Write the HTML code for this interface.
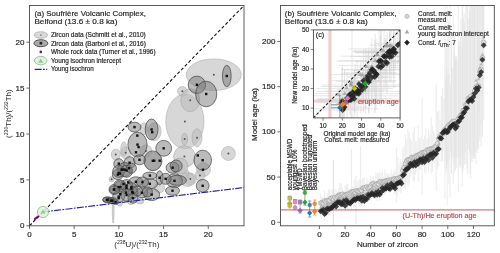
<!DOCTYPE html><html><head><meta charset="utf-8"><style>html,body{margin:0;padding:0;background:#fff;width:500px;height:253px;overflow:hidden}</style></head><body><svg width="500" height="253" viewBox="0 0 500 253" style="display:block;font-family:'Liberation Sans', sans-serif;will-change:transform">
<rect width="500" height="253" fill="#fff"/>
<clipPath id="cl"><rect x="29.5" y="5.5" width="214.5" height="220.3"/></clipPath>
<g clip-path="url(#cl)">
<ellipse cx="213.8" cy="74.7" rx="27.5" ry="15.8" fill="#bdbdbd" fill-opacity="0.6" stroke="#a0a0a0" stroke-width="0.6" stroke-opacity="0.8"/>
<ellipse cx="184.9" cy="121.5" rx="19.1" ry="27.3" fill="#bdbdbd" fill-opacity="0.6" stroke="#a0a0a0" stroke-width="0.6" stroke-opacity="0.8"/>
<ellipse cx="182.4" cy="91.3" rx="4.8" ry="4.8" fill="#bdbdbd" fill-opacity="0.6" stroke="#a0a0a0" stroke-width="0.6" stroke-opacity="0.8"/>
<ellipse cx="190.2" cy="100.2" rx="9.5" ry="11.5" fill="#bdbdbd" fill-opacity="0.6" stroke="#a0a0a0" stroke-width="0.6" stroke-opacity="0.8"/>
<ellipse cx="184.4" cy="156.5" rx="10.8" ry="10.8" fill="#bdbdbd" fill-opacity="0.6" stroke="#a0a0a0" stroke-width="0.6" stroke-opacity="0.8"/>
<ellipse cx="228.4" cy="153.5" rx="7" ry="7" fill="#bdbdbd" fill-opacity="0.6" stroke="#a0a0a0" stroke-width="0.6" stroke-opacity="0.8"/>
<ellipse cx="197" cy="137.7" rx="5" ry="9" fill="#bdbdbd" fill-opacity="0.6" stroke="#a0a0a0" stroke-width="0.6" stroke-opacity="0.8"/>
<ellipse cx="203.5" cy="169.6" rx="7" ry="7" fill="#bdbdbd" fill-opacity="0.6" stroke="#a0a0a0" stroke-width="0.6" stroke-opacity="0.8"/>
<ellipse cx="199.9" cy="175.6" rx="5" ry="5" fill="#bdbdbd" fill-opacity="0.6" stroke="#a0a0a0" stroke-width="0.6" stroke-opacity="0.8"/>
<ellipse cx="190.4" cy="179.1" rx="6" ry="6" fill="#bdbdbd" fill-opacity="0.6" stroke="#a0a0a0" stroke-width="0.6" stroke-opacity="0.8"/>
<ellipse cx="183.3" cy="174.4" rx="6" ry="6" fill="#bdbdbd" fill-opacity="0.6" stroke="#a0a0a0" stroke-width="0.6" stroke-opacity="0.8"/>
<ellipse cx="154.6" cy="131.6" rx="6.5" ry="9" fill="#bdbdbd" fill-opacity="0.6" stroke="#a0a0a0" stroke-width="0.6" stroke-opacity="0.8"/>
<ellipse cx="143.7" cy="128.7" rx="4" ry="6" fill="#bdbdbd" fill-opacity="0.6" stroke="#a0a0a0" stroke-width="0.6" stroke-opacity="0.8"/>
<ellipse cx="153.3" cy="161.3" rx="9" ry="9" fill="#bdbdbd" fill-opacity="0.6" stroke="#a0a0a0" stroke-width="0.6" stroke-opacity="0.8"/>
<ellipse cx="145.9" cy="150.9" rx="6" ry="6" fill="#bdbdbd" fill-opacity="0.6" stroke="#a0a0a0" stroke-width="0.6" stroke-opacity="0.8"/>
<ellipse cx="125.7" cy="152.8" rx="5" ry="6" fill="#bdbdbd" fill-opacity="0.6" stroke="#a0a0a0" stroke-width="0.6" stroke-opacity="0.8"/>
<ellipse cx="115.8" cy="154.5" rx="4.5" ry="5.5" fill="#bdbdbd" fill-opacity="0.6" stroke="#a0a0a0" stroke-width="0.6" stroke-opacity="0.8"/>
<ellipse cx="123.7" cy="148.9" rx="3" ry="7" fill="#bdbdbd" fill-opacity="0.6" stroke="#a0a0a0" stroke-width="0.6" stroke-opacity="0.8"/>
<ellipse cx="111.6" cy="179.2" rx="2.6" ry="2.6" fill="#bdbdbd" fill-opacity="0.6" stroke="#a0a0a0" stroke-width="0.6" stroke-opacity="0.8"/>
<ellipse cx="119.8" cy="203.7" rx="2.5" ry="2.5" fill="#bdbdbd" fill-opacity="0.6" stroke="#a0a0a0" stroke-width="0.6" stroke-opacity="0.8"/>
<ellipse cx="130.6" cy="201.7" rx="3" ry="3" fill="#bdbdbd" fill-opacity="0.6" stroke="#a0a0a0" stroke-width="0.6" stroke-opacity="0.8"/>
<ellipse cx="159.6" cy="187.7" rx="5" ry="5" fill="#bdbdbd" fill-opacity="0.6" stroke="#a0a0a0" stroke-width="0.6" stroke-opacity="0.8"/>
<ellipse cx="184.6" cy="139.1" rx="3" ry="6" fill="#bdbdbd" fill-opacity="0.6" stroke="#a0a0a0" stroke-width="0.6" stroke-opacity="0.8"/>
<ellipse cx="187.4" cy="179.5" rx="7" ry="7" fill="#bdbdbd" fill-opacity="0.6" stroke="#a0a0a0" stroke-width="0.6" stroke-opacity="0.8"/>
<ellipse cx="113.2" cy="212" rx="0.9" ry="11" fill="#bdbdbd" fill-opacity="0.6" stroke="#a0a0a0" stroke-width="0.6" stroke-opacity="0.8"/>
<ellipse cx="180" cy="166" rx="8" ry="8" fill="#bdbdbd" fill-opacity="0.6" stroke="#a0a0a0" stroke-width="0.6" stroke-opacity="0.8"/>
<ellipse cx="140" cy="201" rx="4" ry="3" fill="#bdbdbd" fill-opacity="0.6" stroke="#a0a0a0" stroke-width="0.6" stroke-opacity="0.8"/>
<circle cx="213.8" cy="74.7" r="1" fill="#555"/>
<circle cx="184.9" cy="121.5" r="1" fill="#555"/>
<circle cx="182.4" cy="91.3" r="1" fill="#555"/>
<circle cx="190.2" cy="100.2" r="1" fill="#555"/>
<circle cx="184.4" cy="156.5" r="1" fill="#555"/>
<circle cx="228.4" cy="153.5" r="1" fill="#555"/>
<circle cx="197" cy="137.7" r="1" fill="#555"/>
<circle cx="199.9" cy="175.6" r="1" fill="#555"/>
<circle cx="190.4" cy="179.1" r="1" fill="#555"/>
<circle cx="145.9" cy="150.9" r="1" fill="#555"/>
<circle cx="125.7" cy="152.8" r="1" fill="#555"/>
<circle cx="115.8" cy="154.5" r="1" fill="#555"/>
<circle cx="111.6" cy="179.2" r="1" fill="#555"/>
<circle cx="184.6" cy="139.1" r="1" fill="#555"/>
<ellipse cx="226.8" cy="76" rx="4.35" ry="10.7" fill="#777" fill-opacity="0.5" stroke="#444" stroke-width="0.7"/>
<ellipse cx="196.9" cy="84.8" rx="8.7" ry="8.7" fill="#777" fill-opacity="0.5" stroke="#444" stroke-width="0.7"/>
<ellipse cx="206.2" cy="94" rx="10.6" ry="12.8" fill="#777" fill-opacity="0.5" stroke="#444" stroke-width="0.7"/>
<ellipse cx="202.7" cy="160.2" rx="8.8" ry="10" fill="#777" fill-opacity="0.5" stroke="#444" stroke-width="0.7"/>
<ellipse cx="202.7" cy="185.8" rx="6.4" ry="6.4" fill="#777" fill-opacity="0.5" stroke="#444" stroke-width="0.7"/>
<ellipse cx="163.7" cy="148.3" rx="7.9" ry="7.9" fill="#777" fill-opacity="0.5" stroke="#444" stroke-width="0.7"/>
<ellipse cx="151.6" cy="129.5" rx="6.4" ry="10.5" fill="#777" fill-opacity="0.5" stroke="#444" stroke-width="0.7"/>
<ellipse cx="134.5" cy="127.1" rx="6.5" ry="4.9" fill="#777" fill-opacity="0.5" stroke="#444" stroke-width="0.7"/>
<ellipse cx="137.5" cy="144.6" rx="9.6" ry="12.4" fill="#777" fill-opacity="0.5" stroke="#444" stroke-width="0.7"/>
<ellipse cx="152.8" cy="160.8" rx="8.9" ry="9.9" fill="#777" fill-opacity="0.5" stroke="#444" stroke-width="0.7"/>
<ellipse cx="172.6" cy="167.7" rx="6.5" ry="5.5" fill="#777" fill-opacity="0.5" stroke="#444" stroke-width="0.7"/>
<ellipse cx="174.5" cy="180.8" rx="8" ry="7" fill="#777" fill-opacity="0.5" stroke="#444" stroke-width="0.7"/>
<ellipse cx="177.4" cy="180.3" rx="9" ry="5" fill="#777" fill-opacity="0.5" stroke="#444" stroke-width="0.7"/>
<ellipse cx="172.5" cy="190.7" rx="7" ry="4.5" fill="#777" fill-opacity="0.5" stroke="#444" stroke-width="0.7"/>
<ellipse cx="159.6" cy="177.8" rx="3.5" ry="7" fill="#777" fill-opacity="0.5" stroke="#444" stroke-width="0.7"/>
<ellipse cx="165.6" cy="178.8" rx="5.5" ry="5.5" fill="#777" fill-opacity="0.5" stroke="#444" stroke-width="0.7"/>
<ellipse cx="149.8" cy="183.8" rx="7.9" ry="4.9" fill="#777" fill-opacity="0.5" stroke="#444" stroke-width="0.7"/>
<ellipse cx="151.7" cy="194.6" rx="8" ry="6" fill="#777" fill-opacity="0.5" stroke="#444" stroke-width="0.7"/>
<ellipse cx="141.9" cy="192.7" rx="6" ry="5" fill="#777" fill-opacity="0.5" stroke="#444" stroke-width="0.7"/>
<ellipse cx="135.9" cy="181.8" rx="7" ry="5" fill="#777" fill-opacity="0.5" stroke="#444" stroke-width="0.7"/>
<ellipse cx="133" cy="192.7" rx="5" ry="6" fill="#777" fill-opacity="0.5" stroke="#444" stroke-width="0.7"/>
<ellipse cx="149.9" cy="175.6" rx="7" ry="3.5" fill="#777" fill-opacity="0.5" stroke="#444" stroke-width="0.7"/>
<ellipse cx="176.2" cy="166" rx="6" ry="6" fill="#777" fill-opacity="0.5" stroke="#444" stroke-width="0.7"/>
<ellipse cx="118.8" cy="163.7" rx="5" ry="5" fill="#777" fill-opacity="0.5" stroke="#444" stroke-width="0.7"/>
<ellipse cx="129.6" cy="162.7" rx="5.5" ry="6" fill="#777" fill-opacity="0.5" stroke="#444" stroke-width="0.7"/>
<ellipse cx="139.5" cy="159.8" rx="6" ry="5" fill="#777" fill-opacity="0.5" stroke="#444" stroke-width="0.7"/>
<ellipse cx="124.7" cy="169.6" rx="7" ry="7" fill="#777" fill-opacity="0.5" stroke="#444" stroke-width="0.7"/>
<ellipse cx="117.8" cy="174.6" rx="5.5" ry="5" fill="#777" fill-opacity="0.5" stroke="#444" stroke-width="0.7"/>
<ellipse cx="118.7" cy="171.3" rx="6" ry="6" fill="#777" fill-opacity="0.5" stroke="#444" stroke-width="0.7"/>
<ellipse cx="126.6" cy="171.3" rx="6" ry="6" fill="#777" fill-opacity="0.5" stroke="#444" stroke-width="0.7"/>
<ellipse cx="131.4" cy="168.2" rx="5" ry="5" fill="#777" fill-opacity="0.5" stroke="#444" stroke-width="0.7"/>
<ellipse cx="114" cy="189.5" rx="5" ry="5" fill="#777" fill-opacity="0.5" stroke="#444" stroke-width="0.7"/>
<ellipse cx="120.3" cy="187.1" rx="6" ry="6" fill="#777" fill-opacity="0.5" stroke="#444" stroke-width="0.7"/>
<ellipse cx="126.6" cy="185.6" rx="6" ry="6" fill="#777" fill-opacity="0.5" stroke="#444" stroke-width="0.7"/>
<ellipse cx="131.4" cy="188.7" rx="6" ry="6" fill="#777" fill-opacity="0.5" stroke="#444" stroke-width="0.7"/>
<ellipse cx="118.7" cy="196.6" rx="6" ry="6" fill="#777" fill-opacity="0.5" stroke="#444" stroke-width="0.7"/>
<ellipse cx="126.6" cy="195" rx="6" ry="6" fill="#777" fill-opacity="0.5" stroke="#444" stroke-width="0.7"/>
<ellipse cx="133" cy="198.2" rx="5" ry="5" fill="#777" fill-opacity="0.5" stroke="#444" stroke-width="0.7"/>
<ellipse cx="107.6" cy="199.8" rx="5" ry="3" fill="#777" fill-opacity="0.5" stroke="#444" stroke-width="0.7"/>
<ellipse cx="112.4" cy="200.6" rx="5" ry="3" fill="#777" fill-opacity="0.5" stroke="#444" stroke-width="0.7"/>
<ellipse cx="142.5" cy="182" rx="6" ry="5" fill="#777" fill-opacity="0.5" stroke="#444" stroke-width="0.7"/>
<ellipse cx="147.4" cy="191.9" rx="5" ry="5" fill="#777" fill-opacity="0.5" stroke="#444" stroke-width="0.7"/>
<ellipse cx="137.5" cy="190.9" rx="5" ry="5" fill="#777" fill-opacity="0.5" stroke="#444" stroke-width="0.7"/>
<ellipse cx="119.8" cy="185" rx="6" ry="5" fill="#777" fill-opacity="0.5" stroke="#444" stroke-width="0.7"/>
<ellipse cx="114.8" cy="189.9" rx="5" ry="4" fill="#777" fill-opacity="0.5" stroke="#444" stroke-width="0.7"/>
<ellipse cx="106.9" cy="199.8" rx="4" ry="2.6" fill="#777" fill-opacity="0.5" stroke="#444" stroke-width="0.7"/>
<ellipse cx="110.8" cy="200.6" rx="4" ry="2.6" fill="#777" fill-opacity="0.5" stroke="#444" stroke-width="0.7"/>
<ellipse cx="115.6" cy="202.2" rx="3" ry="2.4" fill="#777" fill-opacity="0.5" stroke="#444" stroke-width="0.7"/>
<rect x="225.60000000000002" y="74.8" width="2.4" height="2.4" fill="#111"/>
<rect x="195.70000000000002" y="83.6" width="2.4" height="2.4" fill="#111"/>
<rect x="205.0" y="92.8" width="2.4" height="2.4" fill="#111"/>
<rect x="201.5" y="159.0" width="2.4" height="2.4" fill="#111"/>
<rect x="201.5" y="184.60000000000002" width="2.4" height="2.4" fill="#111"/>
<rect x="162.5" y="147.10000000000002" width="2.4" height="2.4" fill="#111"/>
<rect x="150.4" y="128.3" width="2.4" height="2.4" fill="#111"/>
<rect x="133.3" y="125.89999999999999" width="2.4" height="2.4" fill="#111"/>
<rect x="136.3" y="143.4" width="2.4" height="2.4" fill="#111"/>
<rect x="151.60000000000002" y="159.60000000000002" width="2.4" height="2.4" fill="#111"/>
<rect x="171.4" y="166.5" width="2.4" height="2.4" fill="#111"/>
<rect x="173.3" y="179.60000000000002" width="2.4" height="2.4" fill="#111"/>
<rect x="171.3" y="189.5" width="2.4" height="2.4" fill="#111"/>
<rect x="158.4" y="176.60000000000002" width="2.4" height="2.4" fill="#111"/>
<rect x="164.4" y="177.60000000000002" width="2.4" height="2.4" fill="#111"/>
<rect x="148.60000000000002" y="182.60000000000002" width="2.4" height="2.4" fill="#111"/>
<rect x="150.5" y="193.4" width="2.4" height="2.4" fill="#111"/>
<rect x="140.70000000000002" y="191.5" width="2.4" height="2.4" fill="#111"/>
<rect x="134.70000000000002" y="180.60000000000002" width="2.4" height="2.4" fill="#111"/>
<rect x="131.8" y="191.5" width="2.4" height="2.4" fill="#111"/>
<rect x="148.70000000000002" y="174.4" width="2.4" height="2.4" fill="#111"/>
<rect x="117.6" y="162.5" width="2.4" height="2.4" fill="#111"/>
<rect x="128.4" y="161.5" width="2.4" height="2.4" fill="#111"/>
<rect x="138.3" y="158.60000000000002" width="2.4" height="2.4" fill="#111"/>
<rect x="123.5" y="168.4" width="2.4" height="2.4" fill="#111"/>
<rect x="116.6" y="173.4" width="2.4" height="2.4" fill="#111"/>
<rect x="112.8" y="188.3" width="2.4" height="2.4" fill="#111"/>
<rect x="119.1" y="185.9" width="2.4" height="2.4" fill="#111"/>
<rect x="125.39999999999999" y="184.4" width="2.4" height="2.4" fill="#111"/>
<rect x="130.20000000000002" y="187.5" width="2.4" height="2.4" fill="#111"/>
<rect x="117.5" y="195.4" width="2.4" height="2.4" fill="#111"/>
<rect x="125.39999999999999" y="193.8" width="2.4" height="2.4" fill="#111"/>
<rect x="131.8" y="197.0" width="2.4" height="2.4" fill="#111"/>
<rect x="106.39999999999999" y="198.60000000000002" width="2.4" height="2.4" fill="#111"/>
<rect x="111.2" y="199.4" width="2.4" height="2.4" fill="#111"/>
<rect x="141.3" y="180.8" width="2.4" height="2.4" fill="#111"/>
<rect x="136.10000000000002" y="134.4" width="2.4" height="2.4" fill="#111"/>
<rect x="137.4" y="145.9" width="2.4" height="2.4" fill="#111"/>
<rect x="134.8" y="151.10000000000002" width="2.4" height="2.4" fill="#111"/>
<rect x="151.0" y="131.0" width="2.4" height="2.4" fill="#111"/>
<rect x="117.5" y="171.70000000000002" width="2.4" height="2.4" fill="#111"/>
<rect x="121.5" y="168.5" width="2.4" height="2.4" fill="#111"/>
<rect x="125.39999999999999" y="169.3" width="2.4" height="2.4" fill="#111"/>
<rect x="127.8" y="167.0" width="2.4" height="2.4" fill="#111"/>
<rect x="112.8" y="188.3" width="2.4" height="2.4" fill="#111"/>
<rect x="117.5" y="185.9" width="2.4" height="2.4" fill="#111"/>
<rect x="122.3" y="182.8" width="2.4" height="2.4" fill="#111"/>
<rect x="126.99999999999999" y="181.20000000000002" width="2.4" height="2.4" fill="#111"/>
<rect x="125.39999999999999" y="186.70000000000002" width="2.4" height="2.4" fill="#111"/>
<rect x="130.20000000000002" y="185.9" width="2.4" height="2.4" fill="#111"/>
<rect x="119.1" y="193.0" width="2.4" height="2.4" fill="#111"/>
<rect x="124.6" y="191.5" width="2.4" height="2.4" fill="#111"/>
<rect x="131.0" y="190.70000000000002" width="2.4" height="2.4" fill="#111"/>
<rect x="117.5" y="197.0" width="2.4" height="2.4" fill="#111"/>
<rect x="105.7" y="198.60000000000002" width="2.4" height="2.4" fill="#111"/>
<rect x="109.6" y="199.4" width="2.4" height="2.4" fill="#111"/>
<rect x="114.39999999999999" y="201.0" width="2.4" height="2.4" fill="#111"/>
<rect x="153.0" y="159.5" width="2.4" height="2.4" fill="#111"/>
<rect x="158.5" y="159.5" width="2.4" height="2.4" fill="#111"/>
<rect x="196.60000000000002" y="154.20000000000002" width="2.4" height="2.4" fill="#111"/>
<rect x="201.8" y="168.5" width="2.4" height="2.4" fill="#111"/>
<rect x="120.5" y="168.4" width="2.4" height="2.4" fill="#111"/>
<rect x="118.6" y="172.4" width="2.4" height="2.4" fill="#111"/>
<line x1="29.5" y1="225.8" x2="244.0" y2="5.499999999999972" stroke="#111" stroke-width="1.1" stroke-dasharray="3.2 2.1"/>
<line x1="42.90625" y1="212.03125" x2="244.0" y2="187.522875" stroke="#1f1f9a" stroke-width="1.1" stroke-dasharray="7 1.3 1.8 1.3"/>
<line x1="35" y1="218.8" x2="38.8" y2="216.2" stroke="#800080" stroke-width="2.1" stroke-linecap="round"/>
<circle cx="43" cy="212" r="5.6" fill="#e2f0e2" fill-opacity="0.85" stroke="#7cc07c" stroke-width="0.8"/>
<path d="M43 209.4 L45.4 213.5 L40.6 213.5 Z" fill="#8ccb8c"/>
</g>
<rect x="29.5" y="5.5" width="214.5" height="220.3" fill="none" stroke="#4a4a4a" stroke-width="0.9"/>
<line x1="29.5" y1="225.8" x2="29.5" y2="229.0" stroke="#4a4a4a" stroke-width="0.8"/>
<text x="29.5" y="236.6" font-size="7.84" text-anchor="middle" fill="#262626" stroke="#262626" stroke-width="0.18" textLength="4.45" lengthAdjust="spacingAndGlyphs">0</text>
<line x1="26.3" y1="225.8" x2="29.5" y2="225.8" stroke="#4a4a4a" stroke-width="0.8"/>
<text x="24.5" y="228.4" font-size="7.84" text-anchor="end" fill="#262626" stroke="#262626" stroke-width="0.18" textLength="4.45" lengthAdjust="spacingAndGlyphs">0</text>
<line x1="74.1875" y1="225.8" x2="74.1875" y2="229.0" stroke="#4a4a4a" stroke-width="0.8"/>
<text x="74.1875" y="236.6" font-size="7.84" text-anchor="middle" fill="#262626" stroke="#262626" stroke-width="0.18" textLength="4.45" lengthAdjust="spacingAndGlyphs">5</text>
<line x1="26.3" y1="179.90416666666667" x2="29.5" y2="179.90416666666667" stroke="#4a4a4a" stroke-width="0.8"/>
<text x="24.5" y="182.50416666666666" font-size="7.84" text-anchor="end" fill="#262626" stroke="#262626" stroke-width="0.18" textLength="4.45" lengthAdjust="spacingAndGlyphs">5</text>
<line x1="118.875" y1="225.8" x2="118.875" y2="229.0" stroke="#4a4a4a" stroke-width="0.8"/>
<text x="118.875" y="236.6" font-size="7.84" text-anchor="middle" fill="#262626" stroke="#262626" stroke-width="0.18" textLength="8.91" lengthAdjust="spacingAndGlyphs">10</text>
<line x1="26.3" y1="134.00833333333333" x2="29.5" y2="134.00833333333333" stroke="#4a4a4a" stroke-width="0.8"/>
<text x="24.5" y="136.60833333333332" font-size="7.84" text-anchor="end" fill="#262626" stroke="#262626" stroke-width="0.18" textLength="8.91" lengthAdjust="spacingAndGlyphs">10</text>
<line x1="163.5625" y1="225.8" x2="163.5625" y2="229.0" stroke="#4a4a4a" stroke-width="0.8"/>
<text x="163.5625" y="236.6" font-size="7.84" text-anchor="middle" fill="#262626" stroke="#262626" stroke-width="0.18" textLength="8.91" lengthAdjust="spacingAndGlyphs">15</text>
<line x1="26.3" y1="88.11250000000001" x2="29.5" y2="88.11250000000001" stroke="#4a4a4a" stroke-width="0.8"/>
<text x="24.5" y="90.7125" font-size="7.84" text-anchor="end" fill="#262626" stroke="#262626" stroke-width="0.18" textLength="8.91" lengthAdjust="spacingAndGlyphs">15</text>
<line x1="208.25" y1="225.8" x2="208.25" y2="229.0" stroke="#4a4a4a" stroke-width="0.8"/>
<text x="208.25" y="236.6" font-size="7.84" text-anchor="middle" fill="#262626" stroke="#262626" stroke-width="0.18" textLength="8.91" lengthAdjust="spacingAndGlyphs">20</text>
<line x1="26.3" y1="42.21666666666667" x2="29.5" y2="42.21666666666667" stroke="#4a4a4a" stroke-width="0.8"/>
<text x="24.5" y="44.81666666666667" font-size="7.84" text-anchor="end" fill="#262626" stroke="#262626" stroke-width="0.18" textLength="8.91" lengthAdjust="spacingAndGlyphs">20</text>
<text x="0" y="0" font-size="7.95" text-anchor="middle" fill="#262626" transform="translate(136.8 246.9)">(<tspan font-size="5.2" dy="-2.8">238</tspan><tspan dy="2.8">U)/(</tspan><tspan font-size="5.2" dy="-2.8">232</tspan><tspan dy="2.8">Th)</tspan></text>
<text x="0" y="0" font-size="7.95" text-anchor="middle" fill="#262626" transform="translate(11.2 113.7) rotate(-90)">(<tspan font-size="5.2" dy="-2.8">230</tspan><tspan dy="2.8">Th)/(</tspan><tspan font-size="5.2" dy="-2.8">232</tspan><tspan dy="2.8">Th)</tspan></text>
<text x="34.4" y="15.6" font-size="7.95" text-anchor="start" fill="#262626" stroke="#262626" stroke-width="0.18" textLength="111.56" lengthAdjust="spacingAndGlyphs">(a) Soufrière Volcanic Complex,</text>
<text x="34.4" y="23.7" font-size="7.95" text-anchor="start" fill="#262626" stroke="#262626" stroke-width="0.18" textLength="83.02" lengthAdjust="spacingAndGlyphs">Belfond (13.6 ± 0.8 ka)</text>
<ellipse cx="40.8" cy="35.0" rx="6.7" ry="3.3" fill="#d9d9d9" stroke="#a8a8a8" stroke-width="0.7"/>
<circle cx="40.8" cy="35.1" r="0.9" fill="#888"/>
<text x="50.9" y="37.2" font-size="6.36" text-anchor="start" fill="#262626" stroke="#262626" stroke-width="0.18" textLength="94.87" lengthAdjust="spacingAndGlyphs">Zircon data (Schmitt et al., 2010)</text>
<ellipse cx="40.9" cy="43.2" rx="7.0" ry="3.5" fill="#a9a9a9" stroke="#444" stroke-width="0.9"/>
<rect x="39.6" y="41.9" width="2.6" height="2.6" fill="#222"/>
<text x="50.9" y="45.6" font-size="6.36" text-anchor="start" fill="#262626" stroke="#262626" stroke-width="0.18" textLength="94.95" lengthAdjust="spacingAndGlyphs">Zircon data (Barboni et al., 2016)</text>
<circle cx="40.8" cy="51.9" r="1.3" fill="#800080"/>
<text x="50.9" y="54.0" font-size="6.36" text-anchor="start" fill="#262626" stroke="#262626" stroke-width="0.18" textLength="104.64" lengthAdjust="spacingAndGlyphs">Whole rock data (Turner et al., 1996)</text>
<ellipse cx="40.7" cy="60.6" rx="6.3" ry="4.2" fill="#e3f1e3" stroke="#7cc07c" stroke-width="0.8"/>
<path d="M40.7 58.4 L43.2 62.8 L38.2 62.8 Z" fill="#8ccb8c"/>
<text x="50.9" y="63.1" font-size="6.36" text-anchor="start" fill="#262626" stroke="#262626" stroke-width="0.18" textLength="70.19" lengthAdjust="spacingAndGlyphs">Young isochron intercept</text>
<line x1="34.7" y1="69.4" x2="47.2" y2="69.4" stroke="#1f1f9a" stroke-width="1.2" stroke-dasharray="7 1.3 1.8 1.3"/>
<text x="50.9" y="71.0" font-size="6.36" text-anchor="start" fill="#262626" stroke="#262626" stroke-width="0.18" textLength="42.82" lengthAdjust="spacingAndGlyphs">Young isochron</text>
<clipPath id="cr"><rect x="280.5" y="5.5" width="213.8" height="220.3"/></clipPath>
<g clip-path="url(#cr)">
<line x1="320.7" y1="193.8" x2="320.7" y2="216.8" stroke="#e9e9e9" stroke-width="1.1" stroke-opacity="0.8"/>
<line x1="322.0" y1="196.4" x2="322.0" y2="214.5" stroke="#e9e9e9" stroke-width="1.1" stroke-opacity="0.8"/>
<line x1="323.3" y1="197.6" x2="323.3" y2="213.0" stroke="#e9e9e9" stroke-width="1.1" stroke-opacity="0.8"/>
<line x1="324.5" y1="190.6" x2="324.5" y2="220.1" stroke="#e9e9e9" stroke-width="1.1" stroke-opacity="0.8"/>
<line x1="325.8" y1="196.6" x2="325.8" y2="215.9" stroke="#e9e9e9" stroke-width="1.1" stroke-opacity="0.8"/>
<line x1="327.1" y1="193.2" x2="327.1" y2="213.0" stroke="#e9e9e9" stroke-width="1.1" stroke-opacity="0.8"/>
<line x1="328.4" y1="189.3" x2="328.4" y2="215.5" stroke="#e9e9e9" stroke-width="1.1" stroke-opacity="0.8"/>
<line x1="329.7" y1="189.4" x2="329.7" y2="215.7" stroke="#e9e9e9" stroke-width="1.1" stroke-opacity="0.8"/>
<line x1="331.0" y1="190.3" x2="331.0" y2="212.8" stroke="#e9e9e9" stroke-width="1.1" stroke-opacity="0.8"/>
<line x1="332.2" y1="189.6" x2="332.2" y2="212.7" stroke="#e9e9e9" stroke-width="1.1" stroke-opacity="0.8"/>
<line x1="333.5" y1="191.1" x2="333.5" y2="210.6" stroke="#e9e9e9" stroke-width="1.1" stroke-opacity="0.8"/>
<line x1="334.8" y1="189.2" x2="334.8" y2="209.4" stroke="#e9e9e9" stroke-width="1.1" stroke-opacity="0.8"/>
<line x1="336.1" y1="189.3" x2="336.1" y2="211.9" stroke="#e9e9e9" stroke-width="1.1" stroke-opacity="0.8"/>
<line x1="337.4" y1="191.6" x2="337.4" y2="205.2" stroke="#e9e9e9" stroke-width="1.1" stroke-opacity="0.8"/>
<line x1="338.7" y1="187.4" x2="338.7" y2="207.1" stroke="#e9e9e9" stroke-width="1.1" stroke-opacity="0.8"/>
<line x1="339.9" y1="182.9" x2="339.9" y2="209.5" stroke="#e9e9e9" stroke-width="1.1" stroke-opacity="0.8"/>
<line x1="341.2" y1="183.1" x2="341.2" y2="211.3" stroke="#e9e9e9" stroke-width="1.1" stroke-opacity="0.8"/>
<line x1="342.5" y1="187.7" x2="342.5" y2="207.8" stroke="#e9e9e9" stroke-width="1.1" stroke-opacity="0.8"/>
<line x1="343.8" y1="190.3" x2="343.8" y2="204.3" stroke="#e9e9e9" stroke-width="1.1" stroke-opacity="0.8"/>
<line x1="345.1" y1="185.3" x2="345.1" y2="211.6" stroke="#e9e9e9" stroke-width="1.1" stroke-opacity="0.8"/>
<line x1="346.4" y1="183.5" x2="346.4" y2="206.9" stroke="#e9e9e9" stroke-width="1.1" stroke-opacity="0.8"/>
<line x1="347.6" y1="183.9" x2="347.6" y2="208.7" stroke="#e9e9e9" stroke-width="1.1" stroke-opacity="0.8"/>
<line x1="348.9" y1="188.5" x2="348.9" y2="206.1" stroke="#e9e9e9" stroke-width="1.1" stroke-opacity="0.8"/>
<line x1="350.2" y1="188.6" x2="350.2" y2="206.2" stroke="#e9e9e9" stroke-width="1.1" stroke-opacity="0.8"/>
<line x1="351.5" y1="148.8" x2="351.5" y2="210.7" stroke="#e9e9e9" stroke-width="1.1" stroke-opacity="0.8"/>
<line x1="352.8" y1="186.5" x2="352.8" y2="203.9" stroke="#e9e9e9" stroke-width="1.1" stroke-opacity="0.8"/>
<line x1="354.1" y1="179.6" x2="354.1" y2="206.3" stroke="#e9e9e9" stroke-width="1.1" stroke-opacity="0.8"/>
<line x1="355.3" y1="188.0" x2="355.3" y2="203.0" stroke="#e9e9e9" stroke-width="1.1" stroke-opacity="0.8"/>
<line x1="356.6" y1="185.2" x2="356.6" y2="201.9" stroke="#e9e9e9" stroke-width="1.1" stroke-opacity="0.8"/>
<line x1="357.9" y1="181.1" x2="357.9" y2="204.0" stroke="#e9e9e9" stroke-width="1.1" stroke-opacity="0.8"/>
<line x1="359.2" y1="179.1" x2="359.2" y2="206.1" stroke="#e9e9e9" stroke-width="1.1" stroke-opacity="0.8"/>
<line x1="360.5" y1="146.0" x2="360.5" y2="206.6" stroke="#e9e9e9" stroke-width="1.1" stroke-opacity="0.8"/>
<line x1="361.8" y1="179.8" x2="361.8" y2="207.1" stroke="#e9e9e9" stroke-width="1.1" stroke-opacity="0.8"/>
<line x1="363.0" y1="177.7" x2="363.0" y2="202.9" stroke="#e9e9e9" stroke-width="1.1" stroke-opacity="0.8"/>
<line x1="364.3" y1="177.3" x2="364.3" y2="207.4" stroke="#e9e9e9" stroke-width="1.1" stroke-opacity="0.8"/>
<line x1="365.6" y1="183.7" x2="365.6" y2="201.6" stroke="#e9e9e9" stroke-width="1.1" stroke-opacity="0.8"/>
<line x1="366.9" y1="177.7" x2="366.9" y2="204.4" stroke="#e9e9e9" stroke-width="1.1" stroke-opacity="0.8"/>
<line x1="368.2" y1="181.4" x2="368.2" y2="198.6" stroke="#e9e9e9" stroke-width="1.1" stroke-opacity="0.8"/>
<line x1="369.5" y1="180.8" x2="369.5" y2="199.7" stroke="#e9e9e9" stroke-width="1.1" stroke-opacity="0.8"/>
<line x1="370.7" y1="175.5" x2="370.7" y2="200.9" stroke="#e9e9e9" stroke-width="1.1" stroke-opacity="0.8"/>
<line x1="372.0" y1="176.7" x2="372.0" y2="197.4" stroke="#e9e9e9" stroke-width="1.1" stroke-opacity="0.8"/>
<line x1="373.3" y1="176.2" x2="373.3" y2="199.1" stroke="#e9e9e9" stroke-width="1.1" stroke-opacity="0.8"/>
<line x1="374.6" y1="179.9" x2="374.6" y2="198.4" stroke="#e9e9e9" stroke-width="1.1" stroke-opacity="0.8"/>
<line x1="375.9" y1="172.3" x2="375.9" y2="200.3" stroke="#e9e9e9" stroke-width="1.1" stroke-opacity="0.8"/>
<line x1="377.2" y1="173.0" x2="377.2" y2="201.1" stroke="#e9e9e9" stroke-width="1.1" stroke-opacity="0.8"/>
<line x1="378.4" y1="173.7" x2="378.4" y2="197.6" stroke="#e9e9e9" stroke-width="1.1" stroke-opacity="0.8"/>
<line x1="379.7" y1="172.0" x2="379.7" y2="200.5" stroke="#e9e9e9" stroke-width="1.1" stroke-opacity="0.8"/>
<line x1="381.0" y1="173.0" x2="381.0" y2="197.3" stroke="#e9e9e9" stroke-width="1.1" stroke-opacity="0.8"/>
<line x1="382.3" y1="170.6" x2="382.3" y2="195.0" stroke="#e9e9e9" stroke-width="1.1" stroke-opacity="0.8"/>
<line x1="383.6" y1="176.5" x2="383.6" y2="193.2" stroke="#e9e9e9" stroke-width="1.1" stroke-opacity="0.8"/>
<line x1="384.9" y1="169.3" x2="384.9" y2="195.6" stroke="#e9e9e9" stroke-width="1.1" stroke-opacity="0.8"/>
<line x1="386.1" y1="172.8" x2="386.1" y2="193.3" stroke="#e9e9e9" stroke-width="1.1" stroke-opacity="0.8"/>
<line x1="387.4" y1="174.8" x2="387.4" y2="189.1" stroke="#e9e9e9" stroke-width="1.1" stroke-opacity="0.8"/>
<line x1="388.7" y1="173.9" x2="388.7" y2="191.9" stroke="#e9e9e9" stroke-width="1.1" stroke-opacity="0.8"/>
<line x1="390.0" y1="173.6" x2="390.0" y2="193.2" stroke="#e9e9e9" stroke-width="1.1" stroke-opacity="0.8"/>
<line x1="391.3" y1="169.7" x2="391.3" y2="189.9" stroke="#e9e9e9" stroke-width="1.1" stroke-opacity="0.8"/>
<line x1="392.6" y1="173.7" x2="392.6" y2="190.2" stroke="#e9e9e9" stroke-width="1.1" stroke-opacity="0.8"/>
<line x1="393.8" y1="171.2" x2="393.8" y2="191.1" stroke="#e9e9e9" stroke-width="1.1" stroke-opacity="0.8"/>
<line x1="395.1" y1="169.4" x2="395.1" y2="194.0" stroke="#e9e9e9" stroke-width="1.1" stroke-opacity="0.8"/>
<line x1="396.4" y1="148.0" x2="396.4" y2="203.0" stroke="#e8e8e8" stroke-width="1.1" stroke-opacity="0.8"/>
<line x1="397.7" y1="156.7" x2="397.7" y2="196.6" stroke="#e8e8e8" stroke-width="1.1" stroke-opacity="0.8"/>
<line x1="399.0" y1="163.5" x2="399.0" y2="191.6" stroke="#e8e8e8" stroke-width="1.1" stroke-opacity="0.8"/>
<line x1="400.3" y1="159.0" x2="400.3" y2="193.0" stroke="#e8e8e8" stroke-width="1.1" stroke-opacity="0.8"/>
<line x1="401.5" y1="162.3" x2="401.5" y2="191.9" stroke="#e8e8e8" stroke-width="1.1" stroke-opacity="0.8"/>
<line x1="402.8" y1="148.7" x2="402.8" y2="188.6" stroke="#e8e8e8" stroke-width="1.1" stroke-opacity="0.8"/>
<line x1="404.1" y1="146.0" x2="404.1" y2="187.4" stroke="#e8e8e8" stroke-width="1.1" stroke-opacity="0.8"/>
<line x1="405.4" y1="134.2" x2="405.4" y2="187.6" stroke="#e8e8e8" stroke-width="1.1" stroke-opacity="0.8"/>
<line x1="406.7" y1="139.2" x2="406.7" y2="182.8" stroke="#e8e8e8" stroke-width="1.1" stroke-opacity="0.8"/>
<line x1="408.0" y1="129.5" x2="408.0" y2="186.3" stroke="#e8e8e8" stroke-width="1.1" stroke-opacity="0.8"/>
<line x1="409.2" y1="132.1" x2="409.2" y2="183.7" stroke="#e8e8e8" stroke-width="1.1" stroke-opacity="0.8"/>
<line x1="410.5" y1="138.2" x2="410.5" y2="176.7" stroke="#e8e8e8" stroke-width="1.1" stroke-opacity="0.8"/>
<line x1="411.8" y1="141.3" x2="411.8" y2="174.3" stroke="#e8e8e8" stroke-width="1.1" stroke-opacity="0.8"/>
<line x1="413.1" y1="131.8" x2="413.1" y2="181.4" stroke="#e8e8e8" stroke-width="1.1" stroke-opacity="0.8"/>
<line x1="414.4" y1="127.1" x2="414.4" y2="180.2" stroke="#e8e8e8" stroke-width="1.1" stroke-opacity="0.8"/>
<line x1="415.7" y1="141.0" x2="415.7" y2="174.6" stroke="#e8e8e8" stroke-width="1.1" stroke-opacity="0.8"/>
<line x1="416.9" y1="141.1" x2="416.9" y2="170.9" stroke="#e8e8e8" stroke-width="1.1" stroke-opacity="0.8"/>
<line x1="418.2" y1="124.9" x2="418.2" y2="181.9" stroke="#e8e8e8" stroke-width="1.1" stroke-opacity="0.8"/>
<line x1="419.5" y1="137.7" x2="419.5" y2="170.0" stroke="#e8e8e8" stroke-width="1.1" stroke-opacity="0.8"/>
<line x1="420.8" y1="136.4" x2="420.8" y2="170.1" stroke="#e8e8e8" stroke-width="1.1" stroke-opacity="0.8"/>
<line x1="422.1" y1="98.0" x2="422.1" y2="194.9" stroke="#e8e8e8" stroke-width="1.1" stroke-opacity="0.8"/>
<line x1="423.4" y1="139.6" x2="423.4" y2="166.0" stroke="#e8e8e8" stroke-width="1.1" stroke-opacity="0.8"/>
<line x1="424.6" y1="135.2" x2="424.6" y2="172.4" stroke="#e8e8e8" stroke-width="1.1" stroke-opacity="0.8"/>
<line x1="425.9" y1="127.9" x2="425.9" y2="173.7" stroke="#e8e8e8" stroke-width="1.1" stroke-opacity="0.8"/>
<line x1="427.2" y1="138.9" x2="427.2" y2="163.4" stroke="#e8e8e8" stroke-width="1.1" stroke-opacity="0.8"/>
<line x1="428.5" y1="129.8" x2="428.5" y2="172.3" stroke="#e8e8e8" stroke-width="1.1" stroke-opacity="0.8"/>
<line x1="429.8" y1="133.5" x2="429.8" y2="164.5" stroke="#e8e8e8" stroke-width="1.1" stroke-opacity="0.8"/>
<line x1="431.1" y1="116.7" x2="431.1" y2="173.8" stroke="#e8e8e8" stroke-width="1.1" stroke-opacity="0.8"/>
<line x1="432.3" y1="125.5" x2="432.3" y2="171.7" stroke="#e8e8e8" stroke-width="1.1" stroke-opacity="0.8"/>
<line x1="433.6" y1="131.1" x2="433.6" y2="163.0" stroke="#e8e8e8" stroke-width="1.1" stroke-opacity="0.8"/>
<line x1="434.9" y1="133.8" x2="434.9" y2="162.8" stroke="#e8e8e8" stroke-width="1.1" stroke-opacity="0.8"/>
<line x1="436.2" y1="83.4" x2="436.2" y2="191.1" stroke="#e8e8e8" stroke-width="1.1" stroke-opacity="0.8"/>
<line x1="437.5" y1="111.5" x2="437.5" y2="168.8" stroke="#e8e8e8" stroke-width="1.1" stroke-opacity="0.8"/>
<line x1="438.8" y1="110.5" x2="438.8" y2="166.0" stroke="#e8e8e8" stroke-width="1.1" stroke-opacity="0.8"/>
<line x1="440.0" y1="118.9" x2="440.0" y2="148.5" stroke="#e8e8e8" stroke-width="1.1" stroke-opacity="0.8"/>
<line x1="441.3" y1="95.8" x2="441.3" y2="161.8" stroke="#e6e6e6" stroke-width="1.1" stroke-opacity="0.8"/>
<line x1="442.6" y1="87.9" x2="442.6" y2="160.8" stroke="#e6e6e6" stroke-width="1.1" stroke-opacity="0.8"/>
<line x1="443.9" y1="98.9" x2="443.9" y2="151.1" stroke="#e6e6e6" stroke-width="1.1" stroke-opacity="0.8"/>
<line x1="445.2" y1="79.5" x2="445.2" y2="160.7" stroke="#e6e6e6" stroke-width="1.1" stroke-opacity="0.8"/>
<line x1="446.5" y1="68.6" x2="446.5" y2="167.9" stroke="#e6e6e6" stroke-width="1.1" stroke-opacity="0.8"/>
<line x1="447.8" y1="73.6" x2="447.8" y2="163.8" stroke="#e6e6e6" stroke-width="1.1" stroke-opacity="0.8"/>
<line x1="449.0" y1="73.5" x2="449.0" y2="159.9" stroke="#e6e6e6" stroke-width="1.1" stroke-opacity="0.8"/>
<line x1="450.3" y1="84.2" x2="450.3" y2="151.5" stroke="#e6e6e6" stroke-width="1.1" stroke-opacity="0.8"/>
<line x1="451.6" y1="67.5" x2="451.6" y2="159.1" stroke="#e6e6e6" stroke-width="1.1" stroke-opacity="0.8"/>
<line x1="452.9" y1="67.9" x2="452.9" y2="157.0" stroke="#e6e6e6" stroke-width="1.1" stroke-opacity="0.8"/>
<line x1="454.2" y1="53.5" x2="454.2" y2="164.8" stroke="#e6e6e6" stroke-width="1.1" stroke-opacity="0.8"/>
<line x1="455.5" y1="56.3" x2="455.5" y2="170.2" stroke="#e6e6e6" stroke-width="1.1" stroke-opacity="0.8"/>
<line x1="456.7" y1="56.1" x2="456.7" y2="167.7" stroke="#e6e6e6" stroke-width="1.1" stroke-opacity="0.8"/>
<line x1="458.0" y1="60.2" x2="458.0" y2="157.2" stroke="#e6e6e6" stroke-width="1.1" stroke-opacity="0.8"/>
<line x1="459.3" y1="41.2" x2="459.3" y2="167.0" stroke="#e6e6e6" stroke-width="1.1" stroke-opacity="0.8"/>
<line x1="460.6" y1="36.8" x2="460.6" y2="164.8" stroke="#e6e6e6" stroke-width="1.1" stroke-opacity="0.8"/>
<line x1="461.9" y1="47.0" x2="461.9" y2="157.7" stroke="#e6e6e6" stroke-width="1.1" stroke-opacity="0.8"/>
<line x1="463.2" y1="18.1" x2="463.2" y2="168.9" stroke="#e6e6e6" stroke-width="1.1" stroke-opacity="0.8"/>
<line x1="464.4" y1="22.5" x2="464.4" y2="164.4" stroke="#e6e6e6" stroke-width="1.1" stroke-opacity="0.8"/>
<line x1="465.7" y1="31.6" x2="465.7" y2="152.3" stroke="#e6e6e6" stroke-width="1.1" stroke-opacity="0.8"/>
<line x1="467.0" y1="3.5" x2="467.0" y2="169.4" stroke="#e6e6e6" stroke-width="1.1" stroke-opacity="0.8"/>
<line x1="468.3" y1="19.0" x2="468.3" y2="149.3" stroke="#e6e6e6" stroke-width="1.1" stroke-opacity="0.8"/>
<line x1="469.6" y1="10.7" x2="469.6" y2="153.2" stroke="#e6e6e6" stroke-width="1.1" stroke-opacity="0.8"/>
<line x1="470.9" y1="-7.0" x2="470.9" y2="161.4" stroke="#e6e6e6" stroke-width="1.1" stroke-opacity="0.8"/>
<line x1="472.1" y1="-3.1" x2="472.1" y2="162.1" stroke="#e6e6e6" stroke-width="1.1" stroke-opacity="0.8"/>
<line x1="473.4" y1="-9.0" x2="473.4" y2="159.0" stroke="#e6e6e6" stroke-width="1.1" stroke-opacity="0.8"/>
<line x1="474.7" y1="-18.0" x2="474.7" y2="158.8" stroke="#e6e6e6" stroke-width="1.1" stroke-opacity="0.8"/>
<line x1="476.0" y1="-18.5" x2="476.0" y2="152.1" stroke="#e6e6e6" stroke-width="1.1" stroke-opacity="0.8"/>
<line x1="477.3" y1="-14.8" x2="477.3" y2="152.9" stroke="#e6e6e6" stroke-width="1.1" stroke-opacity="0.8"/>
<line x1="478.6" y1="-16.1" x2="478.6" y2="149.0" stroke="#e6e6e6" stroke-width="1.1" stroke-opacity="0.8"/>
<line x1="479.8" y1="-29.6" x2="479.8" y2="136.2" stroke="#e6e6e6" stroke-width="1.1" stroke-opacity="0.8"/>
<line x1="481.1" y1="-55.3" x2="481.1" y2="146.7" stroke="#e6e6e6" stroke-width="1.1" stroke-opacity="0.8"/>
<line x1="482.4" y1="-70.9" x2="482.4" y2="137.0" stroke="#e6e6e6" stroke-width="1.1" stroke-opacity="0.8"/>
<line x1="483.7" y1="-82.4" x2="483.7" y2="120.0" stroke="#e6e6e6" stroke-width="1.1" stroke-opacity="0.8"/>
<line x1="445.0" y1="-2.7" x2="445.0" y2="198.9" stroke="#e2e2e2" stroke-width="1" stroke-opacity="0.7"/>
<line x1="446.3" y1="48.0" x2="446.3" y2="172.5" stroke="#e2e2e2" stroke-width="1" stroke-opacity="0.7"/>
<line x1="447.2" y1="-18.4" x2="447.2" y2="204.8" stroke="#e2e2e2" stroke-width="1" stroke-opacity="0.7"/>
<line x1="448.7" y1="20.8" x2="448.7" y2="184.2" stroke="#e2e2e2" stroke-width="1" stroke-opacity="0.7"/>
<line x1="450.1" y1="-8.5" x2="450.1" y2="197.9" stroke="#e2e2e2" stroke-width="1" stroke-opacity="0.7"/>
<line x1="451.5" y1="38.1" x2="451.5" y2="173.6" stroke="#e2e2e2" stroke-width="1" stroke-opacity="0.7"/>
<line x1="453.2" y1="14.6" x2="453.2" y2="184.0" stroke="#e2e2e2" stroke-width="1" stroke-opacity="0.7"/>
<line x1="454.6" y1="34.1" x2="454.6" y2="172.8" stroke="#e2e2e2" stroke-width="1" stroke-opacity="0.7"/>
<line x1="455.2" y1="59.2" x2="455.2" y2="158.7" stroke="#e2e2e2" stroke-width="1" stroke-opacity="0.7"/>
<line x1="456.3" y1="59.6" x2="456.3" y2="157.1" stroke="#e2e2e2" stroke-width="1" stroke-opacity="0.7"/>
<line x1="458.3" y1="-15.9" x2="458.3" y2="192.1" stroke="#e2e2e2" stroke-width="1" stroke-opacity="0.7"/>
<line x1="458.9" y1="46.3" x2="458.9" y2="157.7" stroke="#e2e2e2" stroke-width="1" stroke-opacity="0.7"/>
<line x1="460.9" y1="18.9" x2="460.9" y2="168.0" stroke="#e2e2e2" stroke-width="1" stroke-opacity="0.7"/>
<line x1="462.2" y1="-26.8" x2="462.2" y2="187.2" stroke="#e2e2e2" stroke-width="1" stroke-opacity="0.7"/>
<line x1="462.7" y1="-5.0" x2="462.7" y2="172.6" stroke="#e2e2e2" stroke-width="1" stroke-opacity="0.7"/>
<line x1="464.1" y1="13.5" x2="464.1" y2="159.6" stroke="#e2e2e2" stroke-width="1" stroke-opacity="0.7"/>
<line x1="465.8" y1="-3.0" x2="465.8" y2="164.2" stroke="#e2e2e2" stroke-width="1" stroke-opacity="0.7"/>
<line x1="466.7" y1="30.1" x2="466.7" y2="144.3" stroke="#e2e2e2" stroke-width="1" stroke-opacity="0.7"/>
<line x1="467.7" y1="-34.7" x2="467.7" y2="173.8" stroke="#e2e2e2" stroke-width="1" stroke-opacity="0.7"/>
<line x1="470.0" y1="-39.0" x2="470.0" y2="172.9" stroke="#e2e2e2" stroke-width="1" stroke-opacity="0.7"/>
<line x1="470.7" y1="-56.8" x2="470.7" y2="178.9" stroke="#e2e2e2" stroke-width="1" stroke-opacity="0.7"/>
<line x1="472.2" y1="-16.1" x2="472.2" y2="155.1" stroke="#e2e2e2" stroke-width="1" stroke-opacity="0.7"/>
<line x1="474.0" y1="-27.4" x2="474.0" y2="156.9" stroke="#e2e2e2" stroke-width="1" stroke-opacity="0.7"/>
<line x1="474.5" y1="-35.7" x2="474.5" y2="157.3" stroke="#e2e2e2" stroke-width="1" stroke-opacity="0.7"/>
<line x1="476.0" y1="-57.1" x2="476.0" y2="164.1" stroke="#e2e2e2" stroke-width="1" stroke-opacity="0.7"/>
<line x1="477.5" y1="-31.6" x2="477.5" y2="147.5" stroke="#e2e2e2" stroke-width="1" stroke-opacity="0.7"/>
<line x1="478.9" y1="30.8" x2="478.9" y2="112.5" stroke="#e2e2e2" stroke-width="1" stroke-opacity="0.7"/>
<line x1="479.8" y1="-47.7" x2="479.8" y2="141.2" stroke="#e2e2e2" stroke-width="1" stroke-opacity="0.7"/>
<line x1="481.1" y1="-41.7" x2="481.1" y2="124.8" stroke="#e2e2e2" stroke-width="1" stroke-opacity="0.7"/>
<line x1="482.4" y1="-16.5" x2="482.4" y2="96.3" stroke="#e2e2e2" stroke-width="1" stroke-opacity="0.7"/>
<line x1="483.7" y1="-14.0" x2="483.7" y2="73.3" stroke="#e2e2e2" stroke-width="1" stroke-opacity="0.7"/>
<line x1="333.4" y1="160" x2="333.4" y2="226" stroke="#e0e0e0" stroke-width="1"/>
<line x1="356" y1="176" x2="356" y2="224" stroke="#e6e6e6" stroke-width="1"/>
<line x1="280.5" y1="209.8" x2="494.3" y2="209.8" stroke="#d27a7a" stroke-width="1.25"/>
<circle cx="320.7" cy="203.1" r="2.3" fill="#e4e4e4" stroke="#8c8c8c" stroke-width="0.5"/>
<circle cx="322.0" cy="202.5" r="2.3" fill="#e4e4e4" stroke="#8c8c8c" stroke-width="0.5"/>
<circle cx="323.3" cy="203.1" r="2.3" fill="#e4e4e4" stroke="#8c8c8c" stroke-width="0.5"/>
<circle cx="324.5" cy="201.0" r="2.3" fill="#e4e4e4" stroke="#8c8c8c" stroke-width="0.5"/>
<circle cx="325.8" cy="201.8" r="2.3" fill="#e4e4e4" stroke="#8c8c8c" stroke-width="0.5"/>
<circle cx="327.1" cy="200.7" r="2.3" fill="#e4e4e4" stroke="#8c8c8c" stroke-width="0.5"/>
<circle cx="328.4" cy="200.2" r="2.3" fill="#e4e4e4" stroke="#8c8c8c" stroke-width="0.5"/>
<circle cx="329.7" cy="200.4" r="2.3" fill="#e4e4e4" stroke="#8c8c8c" stroke-width="0.5"/>
<circle cx="331.0" cy="198.4" r="2.3" fill="#e4e4e4" stroke="#8c8c8c" stroke-width="0.5"/>
<circle cx="332.2" cy="198.1" r="2.3" fill="#e4e4e4" stroke="#8c8c8c" stroke-width="0.5"/>
<circle cx="333.5" cy="199.1" r="2.3" fill="#e4e4e4" stroke="#8c8c8c" stroke-width="0.5"/>
<circle cx="334.8" cy="197.4" r="2.3" fill="#e4e4e4" stroke="#8c8c8c" stroke-width="0.5"/>
<circle cx="336.1" cy="198.1" r="2.3" fill="#e4e4e4" stroke="#8c8c8c" stroke-width="0.5"/>
<circle cx="337.4" cy="196.7" r="2.3" fill="#e4e4e4" stroke="#8c8c8c" stroke-width="0.5"/>
<circle cx="338.7" cy="195.4" r="2.3" fill="#e4e4e4" stroke="#8c8c8c" stroke-width="0.5"/>
<circle cx="339.9" cy="195.0" r="2.3" fill="#e4e4e4" stroke="#8c8c8c" stroke-width="0.5"/>
<circle cx="341.2" cy="194.9" r="2.3" fill="#e4e4e4" stroke="#8c8c8c" stroke-width="0.5"/>
<circle cx="342.5" cy="194.3" r="2.3" fill="#e4e4e4" stroke="#8c8c8c" stroke-width="0.5"/>
<circle cx="343.8" cy="195.8" r="2.3" fill="#e4e4e4" stroke="#8c8c8c" stroke-width="0.5"/>
<circle cx="345.1" cy="195.2" r="2.3" fill="#e4e4e4" stroke="#8c8c8c" stroke-width="0.5"/>
<circle cx="346.4" cy="194.4" r="2.3" fill="#e4e4e4" stroke="#8c8c8c" stroke-width="0.5"/>
<circle cx="347.6" cy="194.4" r="2.3" fill="#e4e4e4" stroke="#8c8c8c" stroke-width="0.5"/>
<circle cx="348.9" cy="193.9" r="2.3" fill="#e4e4e4" stroke="#8c8c8c" stroke-width="0.5"/>
<circle cx="350.2" cy="193.1" r="2.3" fill="#e4e4e4" stroke="#8c8c8c" stroke-width="0.5"/>
<circle cx="351.5" cy="192.1" r="2.3" fill="#e4e4e4" stroke="#8c8c8c" stroke-width="0.5"/>
<circle cx="352.8" cy="191.7" r="2.3" fill="#e4e4e4" stroke="#8c8c8c" stroke-width="0.5"/>
<circle cx="354.1" cy="191.3" r="2.3" fill="#e4e4e4" stroke="#8c8c8c" stroke-width="0.5"/>
<circle cx="355.3" cy="192.7" r="2.3" fill="#e4e4e4" stroke="#8c8c8c" stroke-width="0.5"/>
<circle cx="356.6" cy="190.7" r="2.3" fill="#e4e4e4" stroke="#8c8c8c" stroke-width="0.5"/>
<circle cx="357.9" cy="191.1" r="2.3" fill="#e4e4e4" stroke="#8c8c8c" stroke-width="0.5"/>
<circle cx="359.2" cy="191.3" r="2.3" fill="#e4e4e4" stroke="#8c8c8c" stroke-width="0.5"/>
<circle cx="360.5" cy="190.0" r="2.3" fill="#e4e4e4" stroke="#8c8c8c" stroke-width="0.5"/>
<circle cx="361.8" cy="190.6" r="2.3" fill="#e4e4e4" stroke="#8c8c8c" stroke-width="0.5"/>
<circle cx="363.0" cy="188.0" r="2.3" fill="#e4e4e4" stroke="#8c8c8c" stroke-width="0.5"/>
<circle cx="364.3" cy="187.9" r="2.3" fill="#e4e4e4" stroke="#8c8c8c" stroke-width="0.5"/>
<circle cx="365.6" cy="188.7" r="2.3" fill="#e4e4e4" stroke="#8c8c8c" stroke-width="0.5"/>
<circle cx="366.9" cy="186.8" r="2.3" fill="#e4e4e4" stroke="#8c8c8c" stroke-width="0.5"/>
<circle cx="368.2" cy="187.9" r="2.3" fill="#e4e4e4" stroke="#8c8c8c" stroke-width="0.5"/>
<circle cx="369.5" cy="187.3" r="2.3" fill="#e4e4e4" stroke="#8c8c8c" stroke-width="0.5"/>
<circle cx="370.7" cy="186.2" r="2.3" fill="#e4e4e4" stroke="#8c8c8c" stroke-width="0.5"/>
<circle cx="372.0" cy="184.2" r="2.3" fill="#e4e4e4" stroke="#8c8c8c" stroke-width="0.5"/>
<circle cx="373.3" cy="183.6" r="2.3" fill="#e4e4e4" stroke="#8c8c8c" stroke-width="0.5"/>
<circle cx="374.6" cy="185.1" r="2.3" fill="#e4e4e4" stroke="#8c8c8c" stroke-width="0.5"/>
<circle cx="375.9" cy="184.8" r="2.3" fill="#e4e4e4" stroke="#8c8c8c" stroke-width="0.5"/>
<circle cx="377.2" cy="183.6" r="2.3" fill="#e4e4e4" stroke="#8c8c8c" stroke-width="0.5"/>
<circle cx="378.4" cy="183.9" r="2.3" fill="#e4e4e4" stroke="#8c8c8c" stroke-width="0.5"/>
<circle cx="379.7" cy="182.0" r="2.3" fill="#e4e4e4" stroke="#8c8c8c" stroke-width="0.5"/>
<circle cx="381.0" cy="181.5" r="2.3" fill="#e4e4e4" stroke="#8c8c8c" stroke-width="0.5"/>
<circle cx="382.3" cy="182.4" r="2.3" fill="#e4e4e4" stroke="#8c8c8c" stroke-width="0.5"/>
<circle cx="383.6" cy="181.8" r="2.3" fill="#e4e4e4" stroke="#8c8c8c" stroke-width="0.5"/>
<circle cx="384.9" cy="181.3" r="2.3" fill="#e4e4e4" stroke="#8c8c8c" stroke-width="0.5"/>
<circle cx="386.1" cy="180.9" r="2.3" fill="#e4e4e4" stroke="#8c8c8c" stroke-width="0.5"/>
<circle cx="387.4" cy="180.8" r="2.3" fill="#e4e4e4" stroke="#8c8c8c" stroke-width="0.5"/>
<circle cx="388.7" cy="180.1" r="2.3" fill="#e4e4e4" stroke="#8c8c8c" stroke-width="0.5"/>
<circle cx="390.0" cy="180.6" r="2.3" fill="#e4e4e4" stroke="#8c8c8c" stroke-width="0.5"/>
<circle cx="391.3" cy="179.8" r="2.3" fill="#e4e4e4" stroke="#8c8c8c" stroke-width="0.5"/>
<circle cx="392.6" cy="180.6" r="2.3" fill="#e4e4e4" stroke="#8c8c8c" stroke-width="0.5"/>
<circle cx="393.8" cy="179.1" r="2.3" fill="#e4e4e4" stroke="#8c8c8c" stroke-width="0.5"/>
<circle cx="395.1" cy="178.7" r="2.3" fill="#e4e4e4" stroke="#8c8c8c" stroke-width="0.5"/>
<circle cx="396.4" cy="179.6" r="2.3" fill="#e4e4e4" stroke="#8c8c8c" stroke-width="0.5"/>
<circle cx="397.7" cy="178.4" r="2.3" fill="#e4e4e4" stroke="#8c8c8c" stroke-width="0.5"/>
<circle cx="399.0" cy="178.3" r="2.3" fill="#e4e4e4" stroke="#8c8c8c" stroke-width="0.5"/>
<circle cx="400.3" cy="177.1" r="2.3" fill="#e4e4e4" stroke="#8c8c8c" stroke-width="0.5"/>
<circle cx="401.5" cy="176.4" r="2.3" fill="#e4e4e4" stroke="#8c8c8c" stroke-width="0.5"/>
<circle cx="402.8" cy="170.4" r="2.3" fill="#e4e4e4" stroke="#8c8c8c" stroke-width="0.5"/>
<circle cx="404.1" cy="167.4" r="2.3" fill="#e4e4e4" stroke="#8c8c8c" stroke-width="0.5"/>
<circle cx="405.4" cy="163.6" r="2.3" fill="#e4e4e4" stroke="#8c8c8c" stroke-width="0.5"/>
<circle cx="406.7" cy="160.9" r="2.3" fill="#e4e4e4" stroke="#8c8c8c" stroke-width="0.5"/>
<circle cx="408.0" cy="159.7" r="2.3" fill="#e4e4e4" stroke="#8c8c8c" stroke-width="0.5"/>
<circle cx="409.2" cy="159.5" r="2.3" fill="#e4e4e4" stroke="#8c8c8c" stroke-width="0.5"/>
<circle cx="410.5" cy="159.6" r="2.3" fill="#e4e4e4" stroke="#8c8c8c" stroke-width="0.5"/>
<circle cx="411.8" cy="157.4" r="2.3" fill="#e4e4e4" stroke="#8c8c8c" stroke-width="0.5"/>
<circle cx="413.1" cy="157.9" r="2.3" fill="#e4e4e4" stroke="#8c8c8c" stroke-width="0.5"/>
<circle cx="414.4" cy="157.2" r="2.3" fill="#e4e4e4" stroke="#8c8c8c" stroke-width="0.5"/>
<circle cx="415.7" cy="156.1" r="2.3" fill="#e4e4e4" stroke="#8c8c8c" stroke-width="0.5"/>
<circle cx="416.9" cy="156.2" r="2.3" fill="#e4e4e4" stroke="#8c8c8c" stroke-width="0.5"/>
<circle cx="418.2" cy="155.1" r="2.3" fill="#e4e4e4" stroke="#8c8c8c" stroke-width="0.5"/>
<circle cx="419.5" cy="154.3" r="2.3" fill="#e4e4e4" stroke="#8c8c8c" stroke-width="0.5"/>
<circle cx="420.8" cy="154.3" r="2.3" fill="#e4e4e4" stroke="#8c8c8c" stroke-width="0.5"/>
<circle cx="422.1" cy="152.6" r="2.3" fill="#e4e4e4" stroke="#8c8c8c" stroke-width="0.5"/>
<circle cx="423.4" cy="152.5" r="2.3" fill="#e4e4e4" stroke="#8c8c8c" stroke-width="0.5"/>
<circle cx="424.6" cy="152.6" r="2.3" fill="#e4e4e4" stroke="#8c8c8c" stroke-width="0.5"/>
<circle cx="425.9" cy="151.9" r="2.3" fill="#e4e4e4" stroke="#8c8c8c" stroke-width="0.5"/>
<circle cx="427.2" cy="149.9" r="2.3" fill="#e4e4e4" stroke="#8c8c8c" stroke-width="0.5"/>
<circle cx="428.5" cy="150.5" r="2.3" fill="#e4e4e4" stroke="#8c8c8c" stroke-width="0.5"/>
<circle cx="429.8" cy="149.1" r="2.3" fill="#e4e4e4" stroke="#8c8c8c" stroke-width="0.5"/>
<circle cx="431.1" cy="149.2" r="2.3" fill="#e4e4e4" stroke="#8c8c8c" stroke-width="0.5"/>
<circle cx="432.3" cy="148.7" r="2.3" fill="#e4e4e4" stroke="#8c8c8c" stroke-width="0.5"/>
<circle cx="433.6" cy="148.1" r="2.3" fill="#e4e4e4" stroke="#8c8c8c" stroke-width="0.5"/>
<circle cx="434.9" cy="147.2" r="2.3" fill="#e4e4e4" stroke="#8c8c8c" stroke-width="0.5"/>
<circle cx="436.2" cy="146.1" r="2.3" fill="#e4e4e4" stroke="#8c8c8c" stroke-width="0.5"/>
<circle cx="437.5" cy="143.6" r="2.3" fill="#e4e4e4" stroke="#8c8c8c" stroke-width="0.5"/>
<circle cx="438.8" cy="138.7" r="2.3" fill="#e4e4e4" stroke="#8c8c8c" stroke-width="0.5"/>
<circle cx="440.0" cy="136.4" r="2.3" fill="#e4e4e4" stroke="#8c8c8c" stroke-width="0.5"/>
<circle cx="441.3" cy="134.5" r="2.3" fill="#e4e4e4" stroke="#8c8c8c" stroke-width="0.5"/>
<circle cx="442.6" cy="134.1" r="2.3" fill="#e4e4e4" stroke="#8c8c8c" stroke-width="0.5"/>
<circle cx="443.9" cy="130.8" r="2.3" fill="#e4e4e4" stroke="#8c8c8c" stroke-width="0.5"/>
<circle cx="445.2" cy="129.5" r="2.3" fill="#e4e4e4" stroke="#8c8c8c" stroke-width="0.5"/>
<circle cx="446.5" cy="127.9" r="2.3" fill="#e4e4e4" stroke="#8c8c8c" stroke-width="0.5"/>
<circle cx="447.8" cy="126.5" r="2.3" fill="#e4e4e4" stroke="#8c8c8c" stroke-width="0.5"/>
<circle cx="449.0" cy="124.8" r="2.3" fill="#e4e4e4" stroke="#8c8c8c" stroke-width="0.5"/>
<circle cx="450.3" cy="124.8" r="2.3" fill="#e4e4e4" stroke="#8c8c8c" stroke-width="0.5"/>
<circle cx="451.6" cy="122.9" r="2.3" fill="#e4e4e4" stroke="#8c8c8c" stroke-width="0.5"/>
<circle cx="452.9" cy="121.5" r="2.3" fill="#e4e4e4" stroke="#8c8c8c" stroke-width="0.5"/>
<circle cx="454.2" cy="121.4" r="2.3" fill="#e4e4e4" stroke="#8c8c8c" stroke-width="0.5"/>
<circle cx="455.5" cy="125.6" r="2.3" fill="#e4e4e4" stroke="#8c8c8c" stroke-width="0.5"/>
<circle cx="456.7" cy="124.6" r="2.3" fill="#e4e4e4" stroke="#8c8c8c" stroke-width="0.5"/>
<circle cx="458.0" cy="119.2" r="2.3" fill="#e4e4e4" stroke="#8c8c8c" stroke-width="0.5"/>
<circle cx="459.3" cy="117.6" r="2.3" fill="#e4e4e4" stroke="#8c8c8c" stroke-width="0.5"/>
<circle cx="460.6" cy="115.5" r="2.3" fill="#e4e4e4" stroke="#8c8c8c" stroke-width="0.5"/>
<circle cx="461.9" cy="114.1" r="2.3" fill="#e4e4e4" stroke="#8c8c8c" stroke-width="0.5"/>
<circle cx="463.2" cy="110.4" r="2.3" fill="#e4e4e4" stroke="#8c8c8c" stroke-width="0.5"/>
<circle cx="464.4" cy="110.1" r="2.3" fill="#e4e4e4" stroke="#8c8c8c" stroke-width="0.5"/>
<circle cx="465.7" cy="105.0" r="2.3" fill="#e4e4e4" stroke="#8c8c8c" stroke-width="0.5"/>
<circle cx="467.0" cy="105.2" r="2.3" fill="#e4e4e4" stroke="#8c8c8c" stroke-width="0.5"/>
<circle cx="468.3" cy="98.4" r="2.3" fill="#e4e4e4" stroke="#8c8c8c" stroke-width="0.5"/>
<circle cx="469.6" cy="98.9" r="2.3" fill="#e4e4e4" stroke="#8c8c8c" stroke-width="0.5"/>
<circle cx="470.9" cy="96.2" r="2.3" fill="#e4e4e4" stroke="#8c8c8c" stroke-width="0.5"/>
<circle cx="472.1" cy="98.9" r="2.3" fill="#e4e4e4" stroke="#8c8c8c" stroke-width="0.5"/>
<circle cx="473.4" cy="94.4" r="2.3" fill="#e4e4e4" stroke="#8c8c8c" stroke-width="0.5"/>
<circle cx="474.7" cy="91.0" r="2.3" fill="#e4e4e4" stroke="#8c8c8c" stroke-width="0.5"/>
<circle cx="476.0" cy="87.3" r="2.3" fill="#e4e4e4" stroke="#8c8c8c" stroke-width="0.5"/>
<circle cx="477.3" cy="89.0" r="2.3" fill="#e4e4e4" stroke="#8c8c8c" stroke-width="0.5"/>
<circle cx="478.6" cy="86.1" r="2.3" fill="#e4e4e4" stroke="#8c8c8c" stroke-width="0.5"/>
<circle cx="479.8" cy="71.9" r="2.3" fill="#e4e4e4" stroke="#8c8c8c" stroke-width="0.5"/>
<circle cx="481.1" cy="69.4" r="2.3" fill="#e4e4e4" stroke="#8c8c8c" stroke-width="0.5"/>
<circle cx="482.4" cy="57.8" r="2.3" fill="#e4e4e4" stroke="#8c8c8c" stroke-width="0.5"/>
<circle cx="483.7" cy="42.3" r="2.3" fill="#e4e4e4" stroke="#8c8c8c" stroke-width="0.5"/>
<path d="M320.7 205.2 L322.6 208.5 L318.8 208.5 Z" fill="#a8a8a8" fill-opacity="0.7"/>
<path d="M322.0 204.7 L323.9 208.0 L320.1 208.0 Z" fill="#a8a8a8" fill-opacity="0.7"/>
<path d="M323.3 204.4 L325.2 207.7 L321.4 207.7 Z" fill="#a8a8a8" fill-opacity="0.7"/>
<path d="M324.5 205.4 L326.4 208.7 L322.6 208.7 Z" fill="#a8a8a8" fill-opacity="0.7"/>
<path d="M325.8 205.3 L327.7 208.6 L323.9 208.6 Z" fill="#a8a8a8" fill-opacity="0.7"/>
<path d="M327.1 202.6 L329.0 205.9 L325.2 205.9 Z" fill="#a8a8a8" fill-opacity="0.7"/>
<path d="M328.4 202.6 L330.3 205.9 L326.5 205.9 Z" fill="#a8a8a8" fill-opacity="0.7"/>
<path d="M329.7 202.8 L331.6 206.1 L327.8 206.1 Z" fill="#a8a8a8" fill-opacity="0.7"/>
<path d="M331.0 201.2 L332.9 204.5 L329.1 204.5 Z" fill="#a8a8a8" fill-opacity="0.7"/>
<path d="M332.2 200.9 L334.1 204.2 L330.3 204.2 Z" fill="#a8a8a8" fill-opacity="0.7"/>
<path d="M333.5 200.5 L335.4 203.8 L331.6 203.8 Z" fill="#a8a8a8" fill-opacity="0.7"/>
<path d="M334.8 199.0 L336.7 202.3 L332.9 202.3 Z" fill="#a8a8a8" fill-opacity="0.7"/>
<path d="M336.1 200.3 L338.0 203.6 L334.2 203.6 Z" fill="#a8a8a8" fill-opacity="0.7"/>
<path d="M337.4 197.4 L339.3 200.7 L335.5 200.7 Z" fill="#a8a8a8" fill-opacity="0.7"/>
<path d="M338.7 196.8 L340.6 200.1 L336.8 200.1 Z" fill="#a8a8a8" fill-opacity="0.7"/>
<path d="M339.9 196.6 L341.8 199.9 L338.0 199.9 Z" fill="#a8a8a8" fill-opacity="0.7"/>
<path d="M341.2 197.6 L343.1 200.9 L339.3 200.9 Z" fill="#a8a8a8" fill-opacity="0.7"/>
<path d="M342.5 197.1 L344.4 200.4 L340.6 200.4 Z" fill="#a8a8a8" fill-opacity="0.7"/>
<path d="M343.8 196.4 L345.7 199.7 L341.9 199.7 Z" fill="#a8a8a8" fill-opacity="0.7"/>
<path d="M345.1 198.4 L347.0 201.7 L343.2 201.7 Z" fill="#a8a8a8" fill-opacity="0.7"/>
<path d="M346.4 195.4 L348.3 198.7 L344.5 198.7 Z" fill="#a8a8a8" fill-opacity="0.7"/>
<path d="M347.6 196.4 L349.5 199.7 L345.7 199.7 Z" fill="#a8a8a8" fill-opacity="0.7"/>
<path d="M348.9 196.4 L350.8 199.7 L347.0 199.7 Z" fill="#a8a8a8" fill-opacity="0.7"/>
<path d="M350.2 196.3 L352.1 199.6 L348.3 199.6 Z" fill="#a8a8a8" fill-opacity="0.7"/>
<path d="M351.5 194.9 L353.4 198.2 L349.6 198.2 Z" fill="#a8a8a8" fill-opacity="0.7"/>
<path d="M352.8 194.2 L354.7 197.5 L350.9 197.5 Z" fill="#a8a8a8" fill-opacity="0.7"/>
<path d="M354.1 193.3 L356.0 196.6 L352.2 196.6 Z" fill="#a8a8a8" fill-opacity="0.7"/>
<path d="M355.3 194.4 L357.2 197.7 L353.4 197.7 Z" fill="#a8a8a8" fill-opacity="0.7"/>
<path d="M356.6 192.6 L358.5 195.9 L354.7 195.9 Z" fill="#a8a8a8" fill-opacity="0.7"/>
<path d="M357.9 192.5 L359.8 195.8 L356.0 195.8 Z" fill="#a8a8a8" fill-opacity="0.7"/>
<path d="M359.2 193.1 L361.1 196.4 L357.3 196.4 Z" fill="#a8a8a8" fill-opacity="0.7"/>
<path d="M360.5 191.8 L362.4 195.1 L358.6 195.1 Z" fill="#a8a8a8" fill-opacity="0.7"/>
<path d="M361.8 193.6 L363.7 196.9 L359.9 196.9 Z" fill="#a8a8a8" fill-opacity="0.7"/>
<path d="M363.0 190.3 L364.9 193.6 L361.1 193.6 Z" fill="#a8a8a8" fill-opacity="0.7"/>
<path d="M364.3 192.5 L366.2 195.8 L362.4 195.8 Z" fill="#a8a8a8" fill-opacity="0.7"/>
<path d="M365.6 191.7 L367.5 195.0 L363.7 195.0 Z" fill="#a8a8a8" fill-opacity="0.7"/>
<path d="M366.9 190.9 L368.8 194.2 L365.0 194.2 Z" fill="#a8a8a8" fill-opacity="0.7"/>
<path d="M368.2 189.3 L370.1 192.6 L366.3 192.6 Z" fill="#a8a8a8" fill-opacity="0.7"/>
<path d="M369.5 189.5 L371.4 192.8 L367.6 192.8 Z" fill="#a8a8a8" fill-opacity="0.7"/>
<path d="M370.7 188.3 L372.6 191.6 L368.8 191.6 Z" fill="#a8a8a8" fill-opacity="0.7"/>
<path d="M372.0 186.5 L373.9 189.8 L370.1 189.8 Z" fill="#a8a8a8" fill-opacity="0.7"/>
<path d="M373.3 187.1 L375.2 190.4 L371.4 190.4 Z" fill="#a8a8a8" fill-opacity="0.7"/>
<path d="M374.6 188.2 L376.5 191.5 L372.7 191.5 Z" fill="#a8a8a8" fill-opacity="0.7"/>
<path d="M375.9 186.8 L377.8 190.1 L374.0 190.1 Z" fill="#a8a8a8" fill-opacity="0.7"/>
<path d="M377.2 187.2 L379.1 190.5 L375.3 190.5 Z" fill="#a8a8a8" fill-opacity="0.7"/>
<path d="M378.4 185.7 L380.3 189.0 L376.5 189.0 Z" fill="#a8a8a8" fill-opacity="0.7"/>
<path d="M379.7 186.3 L381.6 189.6 L377.8 189.6 Z" fill="#a8a8a8" fill-opacity="0.7"/>
<path d="M381.0 184.8 L382.9 188.1 L379.1 188.1 Z" fill="#a8a8a8" fill-opacity="0.7"/>
<path d="M382.3 183.2 L384.2 186.5 L380.4 186.5 Z" fill="#a8a8a8" fill-opacity="0.7"/>
<path d="M383.6 183.9 L385.5 187.2 L381.7 187.2 Z" fill="#a8a8a8" fill-opacity="0.7"/>
<path d="M384.9 182.8 L386.8 186.1 L383.0 186.1 Z" fill="#a8a8a8" fill-opacity="0.7"/>
<path d="M386.1 182.7 L388.0 186.0 L384.2 186.0 Z" fill="#a8a8a8" fill-opacity="0.7"/>
<path d="M387.4 181.2 L389.3 184.5 L385.5 184.5 Z" fill="#a8a8a8" fill-opacity="0.7"/>
<path d="M388.7 182.2 L390.6 185.5 L386.8 185.5 Z" fill="#a8a8a8" fill-opacity="0.7"/>
<path d="M390.0 182.8 L391.9 186.1 L388.1 186.1 Z" fill="#a8a8a8" fill-opacity="0.7"/>
<path d="M391.3 179.8 L393.2 183.1 L389.4 183.1 Z" fill="#a8a8a8" fill-opacity="0.7"/>
<path d="M392.6 181.3 L394.5 184.6 L390.7 184.6 Z" fill="#a8a8a8" fill-opacity="0.7"/>
<path d="M393.8 180.7 L395.7 184.0 L391.9 184.0 Z" fill="#a8a8a8" fill-opacity="0.7"/>
<path d="M395.1 181.6 L397.0 184.9 L393.2 184.9 Z" fill="#a8a8a8" fill-opacity="0.7"/>
<path d="M396.4 179.8 L398.3 183.1 L394.5 183.1 Z" fill="#a8a8a8" fill-opacity="0.7"/>
<path d="M397.7 179.0 L399.6 182.3 L395.8 182.3 Z" fill="#a8a8a8" fill-opacity="0.7"/>
<path d="M399.0 178.5 L400.9 181.8 L397.1 181.8 Z" fill="#a8a8a8" fill-opacity="0.7"/>
<path d="M400.3 177.6 L402.2 180.9 L398.4 180.9 Z" fill="#a8a8a8" fill-opacity="0.7"/>
<path d="M401.5 177.9 L403.4 181.2 L399.6 181.2 Z" fill="#a8a8a8" fill-opacity="0.7"/>
<path d="M402.8 171.0 L404.7 174.3 L400.9 174.3 Z" fill="#a8a8a8" fill-opacity="0.7"/>
<path d="M404.1 169.0 L406.0 172.3 L402.2 172.3 Z" fill="#a8a8a8" fill-opacity="0.7"/>
<path d="M405.4 164.8 L407.3 168.1 L403.5 168.1 Z" fill="#a8a8a8" fill-opacity="0.7"/>
<path d="M406.7 163.3 L408.6 166.6 L404.8 166.6 Z" fill="#a8a8a8" fill-opacity="0.7"/>
<path d="M408.0 161.9 L409.9 165.2 L406.1 165.2 Z" fill="#a8a8a8" fill-opacity="0.7"/>
<path d="M409.2 161.4 L411.1 164.7 L407.3 164.7 Z" fill="#a8a8a8" fill-opacity="0.7"/>
<path d="M410.5 159.7 L412.4 163.0 L408.6 163.0 Z" fill="#a8a8a8" fill-opacity="0.7"/>
<path d="M411.8 159.0 L413.7 162.3 L409.9 162.3 Z" fill="#a8a8a8" fill-opacity="0.7"/>
<path d="M413.1 159.8 L415.0 163.1 L411.2 163.1 Z" fill="#a8a8a8" fill-opacity="0.7"/>
<path d="M414.4 157.7 L416.3 161.0 L412.5 161.0 Z" fill="#a8a8a8" fill-opacity="0.7"/>
<path d="M415.7 158.8 L417.6 162.1 L413.8 162.1 Z" fill="#a8a8a8" fill-opacity="0.7"/>
<path d="M416.9 157.0 L418.8 160.3 L415.0 160.3 Z" fill="#a8a8a8" fill-opacity="0.7"/>
<path d="M418.2 157.4 L420.1 160.7 L416.3 160.7 Z" fill="#a8a8a8" fill-opacity="0.7"/>
<path d="M419.5 155.1 L421.4 158.4 L417.6 158.4 Z" fill="#a8a8a8" fill-opacity="0.7"/>
<path d="M420.8 154.8 L422.7 158.1 L418.9 158.1 Z" fill="#a8a8a8" fill-opacity="0.7"/>
<path d="M422.1 155.4 L424.0 158.7 L420.2 158.7 Z" fill="#a8a8a8" fill-opacity="0.7"/>
<path d="M423.4 153.3 L425.3 156.6 L421.5 156.6 Z" fill="#a8a8a8" fill-opacity="0.7"/>
<path d="M424.6 155.3 L426.5 158.6 L422.7 158.6 Z" fill="#a8a8a8" fill-opacity="0.7"/>
<path d="M425.9 153.6 L427.8 156.9 L424.0 156.9 Z" fill="#a8a8a8" fill-opacity="0.7"/>
<path d="M427.2 151.3 L429.1 154.6 L425.3 154.6 Z" fill="#a8a8a8" fill-opacity="0.7"/>
<path d="M428.5 153.2 L430.4 156.5 L426.6 156.5 Z" fill="#a8a8a8" fill-opacity="0.7"/>
<path d="M429.8 150.1 L431.7 153.4 L427.9 153.4 Z" fill="#a8a8a8" fill-opacity="0.7"/>
<path d="M431.1 149.7 L433.0 153.0 L429.2 153.0 Z" fill="#a8a8a8" fill-opacity="0.7"/>
<path d="M432.3 151.2 L434.2 154.5 L430.4 154.5 Z" fill="#a8a8a8" fill-opacity="0.7"/>
<path d="M433.6 148.4 L435.5 151.7 L431.7 151.7 Z" fill="#a8a8a8" fill-opacity="0.7"/>
<path d="M434.9 149.0 L436.8 152.3 L433.0 152.3 Z" fill="#a8a8a8" fill-opacity="0.7"/>
<path d="M436.2 147.8 L438.1 151.1 L434.3 151.1 Z" fill="#a8a8a8" fill-opacity="0.7"/>
<path d="M437.5 144.5 L439.4 147.8 L435.6 147.8 Z" fill="#a8a8a8" fill-opacity="0.7"/>
<path d="M438.8 141.9 L440.7 145.2 L436.9 145.2 Z" fill="#a8a8a8" fill-opacity="0.7"/>
<path d="M440.0 135.2 L441.9 138.5 L438.1 138.5 Z" fill="#a8a8a8" fill-opacity="0.7"/>
<path d="M441.3 134.5 L443.2 137.8 L439.4 137.8 Z" fill="#a8a8a8" fill-opacity="0.7"/>
<path d="M442.6 131.6 L444.5 134.9 L440.7 134.9 Z" fill="#a8a8a8" fill-opacity="0.7"/>
<path d="M443.9 129.4 L445.8 132.7 L442.0 132.7 Z" fill="#a8a8a8" fill-opacity="0.7"/>
<path d="M445.2 128.1 L447.1 131.4 L443.3 131.4 Z" fill="#a8a8a8" fill-opacity="0.7"/>
<path d="M446.5 128.1 L448.4 131.4 L444.6 131.4 Z" fill="#a8a8a8" fill-opacity="0.7"/>
<path d="M447.8 127.3 L449.6 130.6 L445.9 130.6 Z" fill="#a8a8a8" fill-opacity="0.7"/>
<path d="M449.0 125.0 L450.9 128.3 L447.1 128.3 Z" fill="#a8a8a8" fill-opacity="0.7"/>
<path d="M450.3 124.0 L452.2 127.3 L448.4 127.3 Z" fill="#a8a8a8" fill-opacity="0.7"/>
<path d="M451.6 122.4 L453.5 125.7 L449.7 125.7 Z" fill="#a8a8a8" fill-opacity="0.7"/>
<path d="M452.9 121.7 L454.8 125.0 L451.0 125.0 Z" fill="#a8a8a8" fill-opacity="0.7"/>
<path d="M454.2 121.2 L456.1 124.5 L452.3 124.5 Z" fill="#a8a8a8" fill-opacity="0.7"/>
<path d="M455.5 125.6 L457.4 128.9 L453.6 128.9 Z" fill="#a8a8a8" fill-opacity="0.7"/>
<path d="M456.7 122.9 L458.6 126.2 L454.8 126.2 Z" fill="#a8a8a8" fill-opacity="0.7"/>
<path d="M458.0 118.2 L459.9 121.5 L456.1 121.5 Z" fill="#a8a8a8" fill-opacity="0.7"/>
<path d="M459.3 118.9 L461.2 122.2 L457.4 122.2 Z" fill="#a8a8a8" fill-opacity="0.7"/>
<path d="M460.6 114.2 L462.5 117.5 L458.7 117.5 Z" fill="#a8a8a8" fill-opacity="0.7"/>
<path d="M461.9 114.3 L463.8 117.6 L460.0 117.6 Z" fill="#a8a8a8" fill-opacity="0.7"/>
<path d="M463.2 111.4 L465.1 114.7 L461.3 114.7 Z" fill="#a8a8a8" fill-opacity="0.7"/>
<path d="M464.4 109.2 L466.3 112.5 L462.5 112.5 Z" fill="#a8a8a8" fill-opacity="0.7"/>
<path d="M465.7 105.8 L467.6 109.1 L463.8 109.1 Z" fill="#a8a8a8" fill-opacity="0.7"/>
<path d="M467.0 106.2 L468.9 109.5 L465.1 109.5 Z" fill="#a8a8a8" fill-opacity="0.7"/>
<path d="M468.3 98.6 L470.2 101.9 L466.4 101.9 Z" fill="#a8a8a8" fill-opacity="0.7"/>
<path d="M469.6 96.6 L471.5 99.9 L467.7 99.9 Z" fill="#a8a8a8" fill-opacity="0.7"/>
<path d="M470.9 96.9 L472.8 100.2 L469.0 100.2 Z" fill="#a8a8a8" fill-opacity="0.7"/>
<path d="M472.1 97.3 L474.0 100.6 L470.2 100.6 Z" fill="#a8a8a8" fill-opacity="0.7"/>
<path d="M473.4 93.7 L475.3 97.0 L471.5 97.0 Z" fill="#a8a8a8" fill-opacity="0.7"/>
<path d="M474.7 91.2 L476.6 94.5 L472.8 94.5 Z" fill="#a8a8a8" fill-opacity="0.7"/>
<path d="M476.0 78.4 L477.9 81.7 L474.1 81.7 Z" fill="#a8a8a8" fill-opacity="0.7"/>
<path d="M477.3 81.8 L479.2 85.1 L475.4 85.1 Z" fill="#a8a8a8" fill-opacity="0.7"/>
<path d="M478.6 77.0 L480.5 80.3 L476.7 80.3 Z" fill="#a8a8a8" fill-opacity="0.7"/>
<path d="M479.8 65.7 L481.7 69.0 L477.9 69.0 Z" fill="#a8a8a8" fill-opacity="0.7"/>
<path d="M481.1 62.3 L483.0 65.6 L479.2 65.6 Z" fill="#a8a8a8" fill-opacity="0.7"/>
<path d="M482.4 52.4 L484.3 55.7 L480.5 55.7 Z" fill="#a8a8a8" fill-opacity="0.7"/>
<path d="M483.7 35.2 L485.6 38.5 L481.8 38.5 Z" fill="#a8a8a8" fill-opacity="0.7"/>
<path d="M320.7 208.2 L323.7 211.2 L320.7 214.2 L317.7 211.2 Z" fill="#262626" fill-opacity="0.85"/>
<path d="M322.0 207.8 L325.0 210.8 L322.0 213.8 L319.0 210.8 Z" fill="#262626" fill-opacity="0.85"/>
<path d="M323.3 206.7 L326.3 209.7 L323.3 212.7 L320.3 209.7 Z" fill="#262626" fill-opacity="0.85"/>
<path d="M324.5 210.9 L327.5 213.9 L324.5 216.9 L321.5 213.9 Z" fill="#262626" fill-opacity="0.85"/>
<path d="M325.8 209.8 L328.8 212.8 L325.8 215.8 L322.8 212.8 Z" fill="#262626" fill-opacity="0.85"/>
<path d="M327.1 205.5 L330.1 208.5 L327.1 211.5 L324.1 208.5 Z" fill="#262626" fill-opacity="0.85"/>
<path d="M328.4 206.0 L331.4 209.0 L328.4 212.0 L325.4 209.0 Z" fill="#262626" fill-opacity="0.85"/>
<path d="M329.7 206.1 L332.7 209.1 L329.7 212.1 L326.7 209.1 Z" fill="#262626" fill-opacity="0.85"/>
<path d="M331.0 205.0 L334.0 208.0 L331.0 211.0 L328.0 208.0 Z" fill="#262626" fill-opacity="0.85"/>
<path d="M332.2 204.6 L335.2 207.6 L332.2 210.6 L329.2 207.6 Z" fill="#262626" fill-opacity="0.85"/>
<path d="M333.5 202.8 L336.5 205.8 L333.5 208.8 L330.5 205.8 Z" fill="#262626" fill-opacity="0.85"/>
<path d="M334.8 201.5 L337.8 204.5 L334.8 207.5 L331.8 204.5 Z" fill="#262626" fill-opacity="0.85"/>
<path d="M336.1 203.6 L339.1 206.6 L336.1 209.6 L333.1 206.6 Z" fill="#262626" fill-opacity="0.85"/>
<path d="M337.4 199.2 L340.4 202.2 L337.4 205.2 L334.4 202.2 Z" fill="#262626" fill-opacity="0.85"/>
<path d="M338.7 199.3 L341.7 202.3 L338.7 205.3 L335.7 202.3 Z" fill="#262626" fill-opacity="0.85"/>
<path d="M339.9 199.3 L342.9 202.3 L339.9 205.3 L336.9 202.3 Z" fill="#262626" fill-opacity="0.85"/>
<path d="M341.2 201.2 L344.2 204.2 L341.2 207.2 L338.2 204.2 Z" fill="#262626" fill-opacity="0.85"/>
<path d="M342.5 200.8 L345.5 203.8 L342.5 206.8 L339.5 203.8 Z" fill="#262626" fill-opacity="0.85"/>
<path d="M343.8 198.0 L346.8 201.0 L343.8 204.0 L340.8 201.0 Z" fill="#262626" fill-opacity="0.85"/>
<path d="M345.1 202.7 L348.1 205.7 L345.1 208.7 L342.1 205.7 Z" fill="#262626" fill-opacity="0.85"/>
<path d="M346.4 197.3 L349.4 200.3 L346.4 203.3 L343.4 200.3 Z" fill="#262626" fill-opacity="0.85"/>
<path d="M347.6 199.4 L350.6 202.4 L347.6 205.4 L344.6 202.4 Z" fill="#262626" fill-opacity="0.85"/>
<path d="M348.9 199.8 L351.9 202.8 L348.9 205.8 L345.9 202.8 Z" fill="#262626" fill-opacity="0.85"/>
<path d="M350.2 200.5 L353.2 203.5 L350.2 206.5 L347.2 203.5 Z" fill="#262626" fill-opacity="0.85"/>
<path d="M351.5 198.7 L354.5 201.7 L351.5 204.7 L348.5 201.7 Z" fill="#262626" fill-opacity="0.85"/>
<path d="M352.8 197.7 L355.8 200.7 L352.8 203.7 L349.8 200.7 Z" fill="#262626" fill-opacity="0.85"/>
<path d="M354.1 196.3 L357.1 199.3 L354.1 202.3 L351.1 199.3 Z" fill="#262626" fill-opacity="0.85"/>
<path d="M355.3 197.1 L358.3 200.1 L355.3 203.1 L352.3 200.1 Z" fill="#262626" fill-opacity="0.85"/>
<path d="M356.6 195.6 L359.6 198.6 L356.6 201.6 L353.6 198.6 Z" fill="#262626" fill-opacity="0.85"/>
<path d="M357.9 195.0 L360.9 198.0 L357.9 201.0 L354.9 198.0 Z" fill="#262626" fill-opacity="0.85"/>
<path d="M359.2 195.8 L362.2 198.8 L359.2 201.8 L356.2 198.8 Z" fill="#262626" fill-opacity="0.85"/>
<path d="M360.5 194.6 L363.5 197.6 L360.5 200.6 L357.5 197.6 Z" fill="#262626" fill-opacity="0.85"/>
<path d="M361.8 197.7 L364.8 200.7 L361.8 203.7 L358.8 200.7 Z" fill="#262626" fill-opacity="0.85"/>
<path d="M363.0 193.7 L366.0 196.7 L363.0 199.7 L360.0 196.7 Z" fill="#262626" fill-opacity="0.85"/>
<path d="M364.3 198.1 L367.3 201.1 L364.3 204.1 L361.3 201.1 Z" fill="#262626" fill-opacity="0.85"/>
<path d="M365.6 195.6 L368.6 198.6 L365.6 201.6 L362.6 198.6 Z" fill="#262626" fill-opacity="0.85"/>
<path d="M366.9 196.0 L369.9 199.0 L366.9 202.0 L363.9 199.0 Z" fill="#262626" fill-opacity="0.85"/>
<path d="M368.2 191.7 L371.2 194.7 L368.2 197.7 L365.2 194.7 Z" fill="#262626" fill-opacity="0.85"/>
<path d="M369.5 192.8 L372.5 195.8 L369.5 198.8 L366.5 195.8 Z" fill="#262626" fill-opacity="0.85"/>
<path d="M370.7 191.5 L373.7 194.5 L370.7 197.5 L367.7 194.5 Z" fill="#262626" fill-opacity="0.85"/>
<path d="M372.0 189.9 L375.0 192.9 L372.0 195.9 L369.0 192.9 Z" fill="#262626" fill-opacity="0.85"/>
<path d="M373.3 191.6 L376.3 194.6 L373.3 197.6 L370.3 194.6 Z" fill="#262626" fill-opacity="0.85"/>
<path d="M374.6 192.3 L377.6 195.3 L374.6 198.3 L371.6 195.3 Z" fill="#262626" fill-opacity="0.85"/>
<path d="M375.9 189.8 L378.9 192.8 L375.9 195.8 L372.9 192.8 Z" fill="#262626" fill-opacity="0.85"/>
<path d="M377.2 191.8 L380.2 194.8 L377.2 197.8 L374.2 194.8 Z" fill="#262626" fill-opacity="0.85"/>
<path d="M378.4 188.5 L381.4 191.5 L378.4 194.5 L375.4 191.5 Z" fill="#262626" fill-opacity="0.85"/>
<path d="M379.7 191.5 L382.7 194.5 L379.7 197.5 L376.7 194.5 Z" fill="#262626" fill-opacity="0.85"/>
<path d="M381.0 189.2 L384.0 192.2 L381.0 195.2 L378.0 192.2 Z" fill="#262626" fill-opacity="0.85"/>
<path d="M382.3 184.9 L385.3 187.9 L382.3 190.9 L379.3 187.9 Z" fill="#262626" fill-opacity="0.85"/>
<path d="M383.6 187.0 L386.6 190.0 L383.6 193.0 L380.6 190.0 Z" fill="#262626" fill-opacity="0.85"/>
<path d="M384.9 185.4 L387.9 188.4 L384.9 191.4 L381.9 188.4 Z" fill="#262626" fill-opacity="0.85"/>
<path d="M386.1 185.4 L389.1 188.4 L386.1 191.4 L383.1 188.4 Z" fill="#262626" fill-opacity="0.85"/>
<path d="M387.4 182.5 L390.4 185.5 L387.4 188.5 L384.4 185.5 Z" fill="#262626" fill-opacity="0.85"/>
<path d="M388.7 185.3 L391.7 188.3 L388.7 191.3 L385.7 188.3 Z" fill="#262626" fill-opacity="0.85"/>
<path d="M390.0 186.0 L393.0 189.0 L390.0 192.0 L387.0 189.0 Z" fill="#262626" fill-opacity="0.85"/>
<path d="M391.3 180.8 L394.3 183.8 L391.3 186.8 L388.3 183.8 Z" fill="#262626" fill-opacity="0.85"/>
<path d="M392.6 183.1 L395.6 186.1 L392.6 189.1 L389.6 186.1 Z" fill="#262626" fill-opacity="0.85"/>
<path d="M393.8 183.4 L396.8 186.4 L393.8 189.4 L390.8 186.4 Z" fill="#262626" fill-opacity="0.85"/>
<path d="M395.1 185.4 L398.1 188.4 L395.1 191.4 L392.1 188.4 Z" fill="#262626" fill-opacity="0.85"/>
<path d="M396.4 181.1 L399.4 184.1 L396.4 187.1 L393.4 184.1 Z" fill="#262626" fill-opacity="0.85"/>
<path d="M397.7 180.6 L400.7 183.6 L397.7 186.6 L394.7 183.6 Z" fill="#262626" fill-opacity="0.85"/>
<path d="M399.0 179.8 L402.0 182.8 L399.0 185.8 L396.0 182.8 Z" fill="#262626" fill-opacity="0.85"/>
<path d="M400.3 179.1 L403.3 182.1 L400.3 185.1 L397.3 182.1 Z" fill="#262626" fill-opacity="0.85"/>
<path d="M401.5 180.4 L404.5 183.4 L401.5 186.4 L398.5 183.4 Z" fill="#262626" fill-opacity="0.85"/>
<path d="M402.8 172.6 L405.8 175.6 L402.8 178.6 L399.8 175.6 Z" fill="#262626" fill-opacity="0.85"/>
<path d="M404.1 171.6 L407.1 174.6 L404.1 177.6 L401.1 174.6 Z" fill="#262626" fill-opacity="0.85"/>
<path d="M405.4 167.0 L408.4 170.0 L405.4 173.0 L402.4 170.0 Z" fill="#262626" fill-opacity="0.85"/>
<path d="M406.7 166.8 L409.7 169.8 L406.7 172.8 L403.7 169.8 Z" fill="#262626" fill-opacity="0.85"/>
<path d="M408.0 165.1 L411.0 168.1 L408.0 171.1 L405.0 168.1 Z" fill="#262626" fill-opacity="0.85"/>
<path d="M409.2 164.3 L412.2 167.3 L409.2 170.3 L406.2 167.3 Z" fill="#262626" fill-opacity="0.85"/>
<path d="M410.5 160.8 L413.5 163.8 L410.5 166.8 L407.5 163.8 Z" fill="#262626" fill-opacity="0.85"/>
<path d="M411.8 161.6 L414.8 164.6 L411.8 167.6 L408.8 164.6 Z" fill="#262626" fill-opacity="0.85"/>
<path d="M413.1 162.8 L416.1 165.8 L413.1 168.8 L410.1 165.8 Z" fill="#262626" fill-opacity="0.85"/>
<path d="M414.4 159.2 L417.4 162.2 L414.4 165.2 L411.4 162.2 Z" fill="#262626" fill-opacity="0.85"/>
<path d="M415.7 162.6 L418.7 165.6 L415.7 168.6 L412.7 165.6 Z" fill="#262626" fill-opacity="0.85"/>
<path d="M416.9 158.8 L419.9 161.8 L416.9 164.8 L413.9 161.8 Z" fill="#262626" fill-opacity="0.85"/>
<path d="M418.2 160.7 L421.2 163.7 L418.2 166.7 L415.2 163.7 Z" fill="#262626" fill-opacity="0.85"/>
<path d="M419.5 157.0 L422.5 160.0 L419.5 163.0 L416.5 160.0 Z" fill="#262626" fill-opacity="0.85"/>
<path d="M420.8 156.4 L423.8 159.4 L420.8 162.4 L417.8 159.4 Z" fill="#262626" fill-opacity="0.85"/>
<path d="M422.1 159.2 L425.1 162.2 L422.1 165.2 L419.1 162.2 Z" fill="#262626" fill-opacity="0.85"/>
<path d="M423.4 155.2 L426.4 158.2 L423.4 161.2 L420.4 158.2 Z" fill="#262626" fill-opacity="0.85"/>
<path d="M424.6 158.9 L427.6 161.9 L424.6 164.9 L421.6 161.9 Z" fill="#262626" fill-opacity="0.85"/>
<path d="M425.9 156.3 L428.9 159.3 L425.9 162.3 L422.9 159.3 Z" fill="#262626" fill-opacity="0.85"/>
<path d="M427.2 153.8 L430.2 156.8 L427.2 159.8 L424.2 156.8 Z" fill="#262626" fill-opacity="0.85"/>
<path d="M428.5 156.9 L431.5 159.9 L428.5 162.9 L425.5 159.9 Z" fill="#262626" fill-opacity="0.85"/>
<path d="M429.8 152.1 L432.8 155.1 L429.8 158.1 L426.8 155.1 Z" fill="#262626" fill-opacity="0.85"/>
<path d="M431.1 151.3 L434.1 154.3 L431.1 157.3 L428.1 154.3 Z" fill="#262626" fill-opacity="0.85"/>
<path d="M432.3 154.8 L435.3 157.8 L432.3 160.8 L429.3 157.8 Z" fill="#262626" fill-opacity="0.85"/>
<path d="M433.6 149.8 L436.6 152.8 L433.6 155.8 L430.6 152.8 Z" fill="#262626" fill-opacity="0.85"/>
<path d="M434.9 151.8 L437.9 154.8 L434.9 157.8 L431.9 154.8 Z" fill="#262626" fill-opacity="0.85"/>
<path d="M436.2 150.5 L439.2 153.5 L436.2 156.5 L433.2 153.5 Z" fill="#262626" fill-opacity="0.85"/>
<path d="M437.5 146.5 L440.5 149.5 L437.5 152.5 L434.5 149.5 Z" fill="#262626" fill-opacity="0.85"/>
<path d="M438.8 146.0 L441.8 149.0 L438.8 152.0 L435.8 149.0 Z" fill="#262626" fill-opacity="0.85"/>
<path d="M440.0 135.0 L443.0 138.0 L440.0 141.0 L437.0 138.0 Z" fill="#262626" fill-opacity="0.85"/>
<path d="M441.3 135.5 L444.3 138.5 L441.3 141.5 L438.3 138.5 Z" fill="#262626" fill-opacity="0.85"/>
<path d="M442.6 130.1 L445.6 133.1 L442.6 136.1 L439.6 133.1 Z" fill="#262626" fill-opacity="0.85"/>
<path d="M443.9 128.9 L446.9 131.9 L443.9 134.9 L440.9 131.9 Z" fill="#262626" fill-opacity="0.85"/>
<path d="M445.2 127.6 L448.2 130.6 L445.2 133.6 L442.2 130.6 Z" fill="#262626" fill-opacity="0.85"/>
<path d="M446.5 129.3 L449.5 132.3 L446.5 135.3 L443.5 132.3 Z" fill="#262626" fill-opacity="0.85"/>
<path d="M447.8 129.1 L450.8 132.1 L447.8 135.1 L444.8 132.1 Z" fill="#262626" fill-opacity="0.85"/>
<path d="M449.0 126.2 L452.0 129.2 L449.0 132.2 L446.0 129.2 Z" fill="#262626" fill-opacity="0.85"/>
<path d="M450.3 124.1 L453.3 127.1 L450.3 130.1 L447.3 127.1 Z" fill="#262626" fill-opacity="0.85"/>
<path d="M451.6 122.9 L454.6 125.9 L451.6 128.9 L448.6 125.9 Z" fill="#262626" fill-opacity="0.85"/>
<path d="M452.9 121.9 L455.9 124.9 L452.9 127.9 L449.9 124.9 Z" fill="#262626" fill-opacity="0.85"/>
<path d="M454.2 121.0 L457.2 124.0 L454.2 127.0 L451.2 124.0 Z" fill="#262626" fill-opacity="0.85"/>
<path d="M455.5 125.6 L458.5 128.6 L455.5 131.6 L452.5 128.6 Z" fill="#262626" fill-opacity="0.85"/>
<path d="M456.7 123.6 L459.7 126.6 L456.7 129.6 L453.7 126.6 Z" fill="#262626" fill-opacity="0.85"/>
<path d="M458.0 118.8 L461.0 121.8 L458.0 124.8 L455.0 121.8 Z" fill="#262626" fill-opacity="0.85"/>
<path d="M459.3 118.1 L462.3 121.1 L459.3 124.1 L456.3 121.1 Z" fill="#262626" fill-opacity="0.85"/>
<path d="M460.6 114.6 L463.6 117.6 L460.6 120.6 L457.6 117.6 Z" fill="#262626" fill-opacity="0.85"/>
<path d="M461.9 114.4 L464.9 117.4 L461.9 120.4 L458.9 117.4 Z" fill="#262626" fill-opacity="0.85"/>
<path d="M463.2 110.5 L466.2 113.5 L463.2 116.5 L460.2 113.5 Z" fill="#262626" fill-opacity="0.85"/>
<path d="M464.4 108.9 L467.4 111.9 L464.4 114.9 L461.4 111.9 Z" fill="#262626" fill-opacity="0.85"/>
<path d="M465.7 105.2 L468.7 108.2 L465.7 111.2 L462.7 108.2 Z" fill="#262626" fill-opacity="0.85"/>
<path d="M467.0 105.3 L470.0 108.3 L467.0 111.3 L464.0 108.3 Z" fill="#262626" fill-opacity="0.85"/>
<path d="M468.3 98.6 L471.3 101.6 L468.3 104.6 L465.3 101.6 Z" fill="#262626" fill-opacity="0.85"/>
<path d="M469.6 97.3 L472.6 100.3 L469.6 103.3 L466.6 100.3 Z" fill="#262626" fill-opacity="0.85"/>
<path d="M470.9 96.5 L473.9 99.5 L470.9 102.5 L467.9 99.5 Z" fill="#262626" fill-opacity="0.85"/>
<path d="M472.1 97.9 L475.1 100.9 L472.1 103.9 L469.1 100.9 Z" fill="#262626" fill-opacity="0.85"/>
<path d="M473.4 94.0 L476.4 97.0 L473.4 100.0 L470.4 97.0 Z" fill="#262626" fill-opacity="0.85"/>
<path d="M474.7 90.4 L477.7 93.4 L474.7 96.4 L471.7 93.4 Z" fill="#262626" fill-opacity="0.85"/>
<path d="M476.0 85.6 L479.0 88.6 L476.0 91.6 L473.0 88.6 Z" fill="#262626" fill-opacity="0.85"/>
<path d="M477.3 87.6 L480.3 90.6 L477.3 93.6 L474.3 90.6 Z" fill="#262626" fill-opacity="0.85"/>
<path d="M478.6 84.6 L481.6 87.6 L478.6 90.6 L475.6 87.6 Z" fill="#262626" fill-opacity="0.85"/>
<path d="M479.8 72.2 L482.8 75.2 L479.8 78.2 L476.8 75.2 Z" fill="#262626" fill-opacity="0.85"/>
<path d="M481.1 68.9 L484.1 71.9 L481.1 74.9 L478.1 71.9 Z" fill="#262626" fill-opacity="0.85"/>
<path d="M482.4 56.8 L485.4 59.8 L482.4 62.8 L479.4 59.8 Z" fill="#262626" fill-opacity="0.85"/>
<path d="M483.7 42.2 L486.7 45.2 L483.7 48.2 L480.7 45.2 Z" fill="#262626" fill-opacity="0.85"/>
<line x1="289.8" y1="196" x2="289.8" y2="208" stroke="#bcbd22" stroke-width="0.8" stroke-opacity="0.8"/>
<line x1="288.2" y1="196" x2="291.40000000000003" y2="196" stroke="#bcbd22" stroke-width="0.7"/>
<line x1="288.2" y1="208" x2="291.40000000000003" y2="208" stroke="#bcbd22" stroke-width="0.7"/>
<rect x="287.90000000000003" y="196.29999999999998" width="3.8" height="3.8" fill="#bcbd22" fill-opacity="0.85" stroke="#666" stroke-width="0.3"/>
<path d="M289.8 200.7 L292.3 203.2 L289.8 205.7 L287.3 203.2 Z" fill="#bcbd22" stroke="#666" stroke-width="0.3"/>
<rect x="287.90000000000003" y="203.29999999999998" width="3.8" height="3.8" fill="#bcbd22" fill-opacity="0.85" stroke="#666" stroke-width="0.3"/>
<line x1="295.1" y1="199.5" x2="295.1" y2="210" stroke="#e377c2" stroke-width="0.8" stroke-opacity="0.8"/>
<line x1="293.5" y1="199.5" x2="296.70000000000005" y2="199.5" stroke="#e377c2" stroke-width="0.7"/>
<line x1="293.5" y1="210" x2="296.70000000000005" y2="210" stroke="#e377c2" stroke-width="0.7"/>
<rect x="293.20000000000005" y="199.79999999999998" width="3.8" height="3.8" fill="#e377c2" fill-opacity="0.85" stroke="#666" stroke-width="0.3"/>
<circle cx="295.1" cy="207.6" r="2" fill="#e377c2" fill-opacity="0.85" stroke="#666" stroke-width="0.3"/>
<line x1="300.1" y1="200" x2="300.1" y2="213" stroke="#9467bd" stroke-width="0.8" stroke-opacity="0.8"/>
<line x1="298.5" y1="200" x2="301.70000000000005" y2="200" stroke="#9467bd" stroke-width="0.7"/>
<line x1="298.5" y1="213" x2="301.70000000000005" y2="213" stroke="#9467bd" stroke-width="0.7"/>
<rect x="298.20000000000005" y="200.29999999999998" width="3.8" height="3.8" fill="#9467bd" fill-opacity="0.85" stroke="#666" stroke-width="0.3"/>
<path d="M300.1 208.1 L302.6 210.6 L300.1 213.1 L297.6 210.6 Z" fill="#9467bd" stroke="#666" stroke-width="0.3"/>
<line x1="304.9" y1="190.5" x2="304.9" y2="205" stroke="#2ca02c" stroke-width="0.8" stroke-opacity="0.8"/>
<line x1="303.29999999999995" y1="190.5" x2="306.5" y2="190.5" stroke="#2ca02c" stroke-width="0.7"/>
<line x1="303.29999999999995" y1="205" x2="306.5" y2="205" stroke="#2ca02c" stroke-width="0.7"/>
<circle cx="304.9" cy="192.8" r="2" fill="#2ca02c" fill-opacity="0.85" stroke="#666" stroke-width="0.3"/>
<path d="M304.9 199.7 L307.4 202.2 L304.9 204.7 L302.4 202.2 Z" fill="#2ca02c" stroke="#666" stroke-width="0.3"/>
<line x1="309.7" y1="201" x2="309.7" y2="217" stroke="#1f77b4" stroke-width="0.8" stroke-opacity="0.8"/>
<line x1="308.09999999999997" y1="201" x2="311.3" y2="201" stroke="#1f77b4" stroke-width="0.7"/>
<line x1="308.09999999999997" y1="217" x2="311.3" y2="217" stroke="#1f77b4" stroke-width="0.7"/>
<circle cx="309.7" cy="204.9" r="2" fill="#1f77b4" fill-opacity="0.85" stroke="#666" stroke-width="0.3"/>
<path d="M309.7 210.4 L312.2 212.9 L309.7 215.4 L307.2 212.9 Z" fill="#1f77b4" stroke="#666" stroke-width="0.3"/>
<line x1="314.7" y1="200" x2="314.7" y2="215" stroke="#ff7f0e" stroke-width="0.8" stroke-opacity="0.8"/>
<line x1="313.09999999999997" y1="200" x2="316.3" y2="200" stroke="#ff7f0e" stroke-width="0.7"/>
<line x1="313.09999999999997" y1="215" x2="316.3" y2="215" stroke="#ff7f0e" stroke-width="0.7"/>
<circle cx="314.7" cy="203.7" r="2" fill="#ff7f0e" fill-opacity="0.85" stroke="#666" stroke-width="0.3"/>
<path d="M314.7 209.0 L317.2 211.5 L314.7 214.0 L312.2 211.5 Z" fill="#ff7f0e" stroke="#666" stroke-width="0.3"/>
</g>
<rect x="280.5" y="5.5" width="213.8" height="220.3" fill="none" stroke="#4a4a4a" stroke-width="0.9"/>
<text x="402.6" y="217.9" font-size="7.25" text-anchor="start" fill="#b5494e" stroke="#b5494e" stroke-width="0.18" textLength="74.01" lengthAdjust="spacingAndGlyphs">(U-Th)/He eruption age</text>
<line x1="319.4" y1="225.8" x2="319.4" y2="229.0" stroke="#4a4a4a" stroke-width="0.8"/>
<text x="319.4" y="236.6" font-size="7.84" text-anchor="middle" fill="#262626" stroke="#262626" stroke-width="0.18" textLength="4.45" lengthAdjust="spacingAndGlyphs">0</text>
<line x1="345.07" y1="225.8" x2="345.07" y2="229.0" stroke="#4a4a4a" stroke-width="0.8"/>
<text x="345.07" y="236.6" font-size="7.84" text-anchor="middle" fill="#262626" stroke="#262626" stroke-width="0.18" textLength="8.91" lengthAdjust="spacingAndGlyphs">20</text>
<line x1="370.74" y1="225.8" x2="370.74" y2="229.0" stroke="#4a4a4a" stroke-width="0.8"/>
<text x="370.74" y="236.6" font-size="7.84" text-anchor="middle" fill="#262626" stroke="#262626" stroke-width="0.18" textLength="8.91" lengthAdjust="spacingAndGlyphs">40</text>
<line x1="396.40999999999997" y1="225.8" x2="396.40999999999997" y2="229.0" stroke="#4a4a4a" stroke-width="0.8"/>
<text x="396.40999999999997" y="236.6" font-size="7.84" text-anchor="middle" fill="#262626" stroke="#262626" stroke-width="0.18" textLength="8.91" lengthAdjust="spacingAndGlyphs">60</text>
<line x1="422.08" y1="225.8" x2="422.08" y2="229.0" stroke="#4a4a4a" stroke-width="0.8"/>
<text x="422.08" y="236.6" font-size="7.84" text-anchor="middle" fill="#262626" stroke="#262626" stroke-width="0.18" textLength="8.91" lengthAdjust="spacingAndGlyphs">80</text>
<line x1="447.75" y1="225.8" x2="447.75" y2="229.0" stroke="#4a4a4a" stroke-width="0.8"/>
<text x="447.75" y="236.6" font-size="7.84" text-anchor="middle" fill="#262626" stroke="#262626" stroke-width="0.18" textLength="13.36" lengthAdjust="spacingAndGlyphs">100</text>
<line x1="473.41999999999996" y1="225.8" x2="473.41999999999996" y2="229.0" stroke="#4a4a4a" stroke-width="0.8"/>
<text x="473.41999999999996" y="236.6" font-size="7.84" text-anchor="middle" fill="#262626" stroke="#262626" stroke-width="0.18" textLength="13.36" lengthAdjust="spacingAndGlyphs">120</text>
<line x1="277.3" y1="222.2" x2="280.5" y2="222.2" stroke="#4a4a4a" stroke-width="0.8"/>
<text x="275.5" y="224.79999999999998" font-size="7.84" text-anchor="end" fill="#262626" stroke="#262626" stroke-width="0.18" textLength="4.45" lengthAdjust="spacingAndGlyphs">0</text>
<line x1="277.3" y1="177.02499999999998" x2="280.5" y2="177.02499999999998" stroke="#4a4a4a" stroke-width="0.8"/>
<text x="275.5" y="179.62499999999997" font-size="7.84" text-anchor="end" fill="#262626" stroke="#262626" stroke-width="0.18" textLength="8.91" lengthAdjust="spacingAndGlyphs">50</text>
<line x1="277.3" y1="131.85" x2="280.5" y2="131.85" stroke="#4a4a4a" stroke-width="0.8"/>
<text x="275.5" y="134.45" font-size="7.84" text-anchor="end" fill="#262626" stroke="#262626" stroke-width="0.18" textLength="13.36" lengthAdjust="spacingAndGlyphs">100</text>
<line x1="277.3" y1="86.67499999999998" x2="280.5" y2="86.67499999999998" stroke="#4a4a4a" stroke-width="0.8"/>
<text x="275.5" y="89.27499999999998" font-size="7.84" text-anchor="end" fill="#262626" stroke="#262626" stroke-width="0.18" textLength="13.36" lengthAdjust="spacingAndGlyphs">150</text>
<line x1="277.3" y1="41.5" x2="280.5" y2="41.5" stroke="#4a4a4a" stroke-width="0.8"/>
<text x="275.5" y="44.1" font-size="7.84" text-anchor="end" fill="#262626" stroke="#262626" stroke-width="0.18" textLength="13.36" lengthAdjust="spacingAndGlyphs">200</text>
<text x="387.5" y="247.0" font-size="7.95" text-anchor="middle" fill="#262626" stroke="#262626" stroke-width="0.18" textLength="61.09" lengthAdjust="spacingAndGlyphs">Number of zircon</text>
<text x="0" y="0" font-size="7.95" text-anchor="middle" fill="#262626" stroke="#262626" stroke-width="0.18" textLength="52.94" lengthAdjust="spacingAndGlyphs" transform="translate(257.4 114.5) rotate(-90)">Model age (ka)</text>
<text x="284.8" y="15.5" font-size="7.95" text-anchor="start" fill="#262626" stroke="#262626" stroke-width="0.18" textLength="111.71" lengthAdjust="spacingAndGlyphs">(b) Soufrière Volcanic Complex,</text>
<text x="284.8" y="23.6" font-size="7.95" text-anchor="start" fill="#262626" stroke="#262626" stroke-width="0.18" textLength="83.02" lengthAdjust="spacingAndGlyphs">Belfond (13.6 ± 0.8 ka)</text>
<circle cx="407" cy="16.4" r="2.1" fill="#d5d5d5" stroke="#999" stroke-width="0.5"/>
<text x="418" y="15.5" font-size="6.36" text-anchor="start" fill="#262626" stroke="#262626" stroke-width="0.18" textLength="34.59" lengthAdjust="spacingAndGlyphs">Const. melt:</text>
<text x="418" y="21.7" font-size="6.36" text-anchor="start" fill="#262626" stroke="#262626" stroke-width="0.18" textLength="28.38" lengthAdjust="spacingAndGlyphs">measured</text>
<path d="M407 29.4 L409.3 33.4 L404.7 33.4 Z" fill="#a8a8a8"/>
<text x="418" y="29.6" font-size="6.36" text-anchor="start" fill="#262626" stroke="#262626" stroke-width="0.18" textLength="34.59" lengthAdjust="spacingAndGlyphs">Const. melt:</text>
<text x="418" y="36.2" font-size="6.36" text-anchor="start" fill="#262626" stroke="#262626" stroke-width="0.18" textLength="70.84" lengthAdjust="spacingAndGlyphs">young isochron intercept</text>
<path d="M407 39.8 L409.8 42.6 L407 45.4 L404.2 42.6 Z" fill="#222"/>
<text x="418" y="45" font-size="6.36" fill="#262626" stroke="#262626" stroke-width="0.18">Const. <tspan font-style="italic">f</tspan><tspan font-size="4.6" dy="1.6">UTh</tspan><tspan dy="-1.6">: 7</tspan></text>
<text x="0" y="0" font-size="6.36" text-anchor="start" fill="#262626" stroke="#262626" stroke-width="0.18" textLength="51.51" lengthAdjust="spacingAndGlyphs" transform="translate(291.90000000000003 190.2) rotate(-90)">acceptable MSWD</text>
<text x="0" y="0" font-size="6.36" text-anchor="start" fill="#262626" stroke="#262626" stroke-width="0.18" textLength="40.75" lengthAdjust="spacingAndGlyphs" transform="translate(297.20000000000005 190.2) rotate(-90)">youngest 10%</text>
<text x="0" y="0" font-size="6.36" text-anchor="start" fill="#262626" stroke="#262626" stroke-width="0.18" textLength="21.97" lengthAdjust="spacingAndGlyphs" transform="translate(302.20000000000005 190.2) rotate(-90)">YMSWD</text>
<text x="0" y="0" font-size="6.36" text-anchor="start" fill="#262626" stroke="#262626" stroke-width="0.18" textLength="65.75" lengthAdjust="spacingAndGlyphs" transform="translate(307.0 190.2) rotate(-90)">Bayesian bootstrapped</text>
<text x="0" y="0" font-size="6.36" text-anchor="start" fill="#262626" stroke="#262626" stroke-width="0.18" textLength="55.35" lengthAdjust="spacingAndGlyphs" transform="translate(311.8 190.2) rotate(-90)">Bayesian truncated</text>
<text x="0" y="0" font-size="6.36" text-anchor="start" fill="#262626" stroke="#262626" stroke-width="0.18" textLength="49.68" lengthAdjust="spacingAndGlyphs" transform="translate(316.8 190.2) rotate(-90)">Bayesian uniform</text>
<rect x="313.4" y="29.9" width="86.70000000000005" height="88.0" fill="#fff"/>
<clipPath id="ci"><rect x="313.4" y="29.9" width="86.70000000000005" height="88.0"/></clipPath>
<g clip-path="url(#ci)">
<rect x="328.428" y="29.9" width="3.0826666666666824" height="88.0" fill="#e29a9a" fill-opacity="0.5"/>
<rect x="313.4" y="99.51777777777778" width="86.70000000000005" height="3.128888888888895" fill="#e9a3a3" fill-opacity="0.45"/>
<line x1="300.8" y1="101.0" x2="383.9" y2="101.0" stroke="#d2d2d2" stroke-width="0.9" stroke-opacity="0.6"/>
<line x1="342.4" y1="136.1" x2="342.4" y2="65.9" stroke="#d2d2d2" stroke-width="0.9" stroke-opacity="0.6"/>
<line x1="316.7" y1="102.8" x2="366.8" y2="102.8" stroke="#d2d2d2" stroke-width="0.9" stroke-opacity="0.6"/>
<line x1="341.8" y1="138.7" x2="341.8" y2="67.0" stroke="#d2d2d2" stroke-width="0.9" stroke-opacity="0.6"/>
<line x1="307.4" y1="108.8" x2="379.3" y2="108.8" stroke="#d2d2d2" stroke-width="0.9" stroke-opacity="0.6"/>
<line x1="343.4" y1="127.0" x2="343.4" y2="90.5" stroke="#d2d2d2" stroke-width="0.9" stroke-opacity="0.6"/>
<line x1="320.6" y1="110.0" x2="364.6" y2="110.0" stroke="#d2d2d2" stroke-width="0.9" stroke-opacity="0.6"/>
<line x1="342.6" y1="120.0" x2="342.6" y2="99.9" stroke="#d2d2d2" stroke-width="0.9" stroke-opacity="0.6"/>
<line x1="321.4" y1="107.0" x2="367.6" y2="107.0" stroke="#d2d2d2" stroke-width="0.9" stroke-opacity="0.6"/>
<line x1="344.5" y1="144.7" x2="344.5" y2="69.2" stroke="#d2d2d2" stroke-width="0.9" stroke-opacity="0.6"/>
<line x1="335.3" y1="98.0" x2="358.8" y2="98.0" stroke="#d2d2d2" stroke-width="0.9" stroke-opacity="0.6"/>
<line x1="347.1" y1="123.6" x2="347.1" y2="72.4" stroke="#d2d2d2" stroke-width="0.9" stroke-opacity="0.6"/>
<line x1="336.4" y1="99.9" x2="360.3" y2="99.9" stroke="#d2d2d2" stroke-width="0.9" stroke-opacity="0.6"/>
<line x1="348.4" y1="110.2" x2="348.4" y2="89.5" stroke="#d2d2d2" stroke-width="0.9" stroke-opacity="0.6"/>
<line x1="317.3" y1="99.6" x2="382.7" y2="99.6" stroke="#d2d2d2" stroke-width="0.9" stroke-opacity="0.6"/>
<line x1="350.0" y1="114.9" x2="350.0" y2="84.2" stroke="#d2d2d2" stroke-width="0.9" stroke-opacity="0.6"/>
<line x1="340.6" y1="94.0" x2="359.8" y2="94.0" stroke="#d2d2d2" stroke-width="0.9" stroke-opacity="0.6"/>
<line x1="350.2" y1="106.6" x2="350.2" y2="81.4" stroke="#d2d2d2" stroke-width="0.9" stroke-opacity="0.6"/>
<line x1="318.4" y1="100.0" x2="383.5" y2="100.0" stroke="#d2d2d2" stroke-width="0.9" stroke-opacity="0.6"/>
<line x1="351.0" y1="126.1" x2="351.0" y2="73.9" stroke="#d2d2d2" stroke-width="0.9" stroke-opacity="0.6"/>
<line x1="346.2" y1="90.2" x2="362.5" y2="90.2" stroke="#d2d2d2" stroke-width="0.9" stroke-opacity="0.6"/>
<line x1="354.3" y1="105.2" x2="354.3" y2="75.2" stroke="#d2d2d2" stroke-width="0.9" stroke-opacity="0.6"/>
<line x1="307.9" y1="95.8" x2="397.8" y2="95.8" stroke="#d2d2d2" stroke-width="0.9" stroke-opacity="0.6"/>
<line x1="352.9" y1="110.5" x2="352.9" y2="81.1" stroke="#d2d2d2" stroke-width="0.9" stroke-opacity="0.6"/>
<line x1="325.2" y1="91.3" x2="384.0" y2="91.3" stroke="#d2d2d2" stroke-width="0.9" stroke-opacity="0.6"/>
<line x1="354.6" y1="112.3" x2="354.6" y2="70.4" stroke="#d2d2d2" stroke-width="0.9" stroke-opacity="0.6"/>
<line x1="316.4" y1="98.7" x2="392.0" y2="98.7" stroke="#d2d2d2" stroke-width="0.9" stroke-opacity="0.6"/>
<line x1="354.2" y1="125.4" x2="354.2" y2="72.0" stroke="#d2d2d2" stroke-width="0.9" stroke-opacity="0.6"/>
<line x1="317.0" y1="88.6" x2="393.2" y2="88.6" stroke="#d2d2d2" stroke-width="0.9" stroke-opacity="0.6"/>
<line x1="355.1" y1="113.2" x2="355.1" y2="64.0" stroke="#d2d2d2" stroke-width="0.9" stroke-opacity="0.6"/>
<line x1="340.8" y1="91.7" x2="370.7" y2="91.7" stroke="#d2d2d2" stroke-width="0.9" stroke-opacity="0.6"/>
<line x1="355.8" y1="105.1" x2="355.8" y2="78.3" stroke="#d2d2d2" stroke-width="0.9" stroke-opacity="0.6"/>
<line x1="346.2" y1="93.4" x2="367.7" y2="93.4" stroke="#d2d2d2" stroke-width="0.9" stroke-opacity="0.6"/>
<line x1="357.0" y1="127.0" x2="357.0" y2="59.7" stroke="#d2d2d2" stroke-width="0.9" stroke-opacity="0.6"/>
<line x1="345.8" y1="90.2" x2="369.9" y2="90.2" stroke="#d2d2d2" stroke-width="0.9" stroke-opacity="0.6"/>
<line x1="357.8" y1="98.8" x2="357.8" y2="81.6" stroke="#d2d2d2" stroke-width="0.9" stroke-opacity="0.6"/>
<line x1="313.8" y1="93.7" x2="403.7" y2="93.7" stroke="#d2d2d2" stroke-width="0.9" stroke-opacity="0.6"/>
<line x1="358.8" y1="107.7" x2="358.8" y2="79.6" stroke="#d2d2d2" stroke-width="0.9" stroke-opacity="0.6"/>
<line x1="317.3" y1="91.3" x2="401.6" y2="91.3" stroke="#d2d2d2" stroke-width="0.9" stroke-opacity="0.6"/>
<line x1="359.4" y1="101.8" x2="359.4" y2="80.8" stroke="#d2d2d2" stroke-width="0.9" stroke-opacity="0.6"/>
<line x1="336.5" y1="89.8" x2="387.8" y2="89.8" stroke="#d2d2d2" stroke-width="0.9" stroke-opacity="0.6"/>
<line x1="362.1" y1="104.6" x2="362.1" y2="75.0" stroke="#d2d2d2" stroke-width="0.9" stroke-opacity="0.6"/>
<line x1="321.2" y1="86.5" x2="400.6" y2="86.5" stroke="#d2d2d2" stroke-width="0.9" stroke-opacity="0.6"/>
<line x1="360.9" y1="113.6" x2="360.9" y2="59.4" stroke="#d2d2d2" stroke-width="0.9" stroke-opacity="0.6"/>
<line x1="331.1" y1="80.7" x2="396.0" y2="80.7" stroke="#d2d2d2" stroke-width="0.9" stroke-opacity="0.6"/>
<line x1="363.6" y1="112.3" x2="363.6" y2="49.0" stroke="#d2d2d2" stroke-width="0.9" stroke-opacity="0.6"/>
<line x1="321.5" y1="85.0" x2="404.1" y2="85.0" stroke="#d2d2d2" stroke-width="0.9" stroke-opacity="0.6"/>
<line x1="362.8" y1="103.6" x2="362.8" y2="66.3" stroke="#d2d2d2" stroke-width="0.9" stroke-opacity="0.6"/>
<line x1="334.4" y1="86.8" x2="396.3" y2="86.8" stroke="#d2d2d2" stroke-width="0.9" stroke-opacity="0.6"/>
<line x1="365.3" y1="108.6" x2="365.3" y2="65.0" stroke="#d2d2d2" stroke-width="0.9" stroke-opacity="0.6"/>
<line x1="356.9" y1="80.8" x2="380.9" y2="80.8" stroke="#d2d2d2" stroke-width="0.9" stroke-opacity="0.6"/>
<line x1="368.9" y1="114.8" x2="368.9" y2="46.9" stroke="#d2d2d2" stroke-width="0.9" stroke-opacity="0.6"/>
<line x1="335.1" y1="81.1" x2="396.3" y2="81.1" stroke="#d2d2d2" stroke-width="0.9" stroke-opacity="0.6"/>
<line x1="365.7" y1="114.4" x2="365.7" y2="47.8" stroke="#d2d2d2" stroke-width="0.9" stroke-opacity="0.6"/>
<line x1="351.3" y1="78.1" x2="382.6" y2="78.1" stroke="#d2d2d2" stroke-width="0.9" stroke-opacity="0.6"/>
<line x1="367.0" y1="102.8" x2="367.0" y2="53.4" stroke="#d2d2d2" stroke-width="0.9" stroke-opacity="0.6"/>
<line x1="343.1" y1="82.2" x2="394.3" y2="82.2" stroke="#d2d2d2" stroke-width="0.9" stroke-opacity="0.6"/>
<line x1="368.7" y1="112.8" x2="368.7" y2="51.6" stroke="#d2d2d2" stroke-width="0.9" stroke-opacity="0.6"/>
<line x1="357.5" y1="75.6" x2="378.9" y2="75.6" stroke="#d2d2d2" stroke-width="0.9" stroke-opacity="0.6"/>
<line x1="368.2" y1="94.2" x2="368.2" y2="56.9" stroke="#d2d2d2" stroke-width="0.9" stroke-opacity="0.6"/>
<line x1="343.7" y1="72.9" x2="396.5" y2="72.9" stroke="#d2d2d2" stroke-width="0.9" stroke-opacity="0.6"/>
<line x1="370.1" y1="82.9" x2="370.1" y2="62.8" stroke="#d2d2d2" stroke-width="0.9" stroke-opacity="0.6"/>
<line x1="342.8" y1="69.4" x2="400.9" y2="69.4" stroke="#d2d2d2" stroke-width="0.9" stroke-opacity="0.6"/>
<line x1="371.8" y1="100.2" x2="371.8" y2="38.5" stroke="#d2d2d2" stroke-width="0.9" stroke-opacity="0.6"/>
<line x1="347.9" y1="77.3" x2="396.0" y2="77.3" stroke="#d2d2d2" stroke-width="0.9" stroke-opacity="0.6"/>
<line x1="371.9" y1="105.4" x2="371.9" y2="49.2" stroke="#d2d2d2" stroke-width="0.9" stroke-opacity="0.6"/>
<line x1="341.6" y1="69.9" x2="403.7" y2="69.9" stroke="#d2d2d2" stroke-width="0.9" stroke-opacity="0.6"/>
<line x1="372.7" y1="84.4" x2="372.7" y2="55.4" stroke="#d2d2d2" stroke-width="0.9" stroke-opacity="0.6"/>
<line x1="354.0" y1="72.8" x2="396.4" y2="72.8" stroke="#d2d2d2" stroke-width="0.9" stroke-opacity="0.6"/>
<line x1="375.2" y1="111.7" x2="375.2" y2="33.8" stroke="#d2d2d2" stroke-width="0.9" stroke-opacity="0.6"/>
<line x1="352.9" y1="70.5" x2="394.2" y2="70.5" stroke="#d2d2d2" stroke-width="0.9" stroke-opacity="0.6"/>
<line x1="373.6" y1="91.8" x2="373.6" y2="49.2" stroke="#d2d2d2" stroke-width="0.9" stroke-opacity="0.6"/>
<line x1="367.5" y1="66.4" x2="389.4" y2="66.4" stroke="#d2d2d2" stroke-width="0.9" stroke-opacity="0.6"/>
<line x1="378.5" y1="81.1" x2="378.5" y2="51.8" stroke="#d2d2d2" stroke-width="0.9" stroke-opacity="0.6"/>
<line x1="360.8" y1="76.8" x2="388.9" y2="76.8" stroke="#d2d2d2" stroke-width="0.9" stroke-opacity="0.6"/>
<line x1="374.8" y1="113.8" x2="374.8" y2="39.9" stroke="#d2d2d2" stroke-width="0.9" stroke-opacity="0.6"/>
<line x1="340.4" y1="73.9" x2="411.8" y2="73.9" stroke="#d2d2d2" stroke-width="0.9" stroke-opacity="0.6"/>
<line x1="376.1" y1="109.1" x2="376.1" y2="38.7" stroke="#d2d2d2" stroke-width="0.9" stroke-opacity="0.6"/>
<line x1="331.0" y1="74.6" x2="422.4" y2="74.6" stroke="#d2d2d2" stroke-width="0.9" stroke-opacity="0.6"/>
<line x1="376.7" y1="101.6" x2="376.7" y2="47.6" stroke="#d2d2d2" stroke-width="0.9" stroke-opacity="0.6"/>
<line x1="336.8" y1="60.8" x2="424.0" y2="60.8" stroke="#d2d2d2" stroke-width="0.9" stroke-opacity="0.6"/>
<line x1="380.4" y1="85.4" x2="380.4" y2="36.2" stroke="#d2d2d2" stroke-width="0.9" stroke-opacity="0.6"/>
<line x1="355.3" y1="61.3" x2="403.0" y2="61.3" stroke="#d2d2d2" stroke-width="0.9" stroke-opacity="0.6"/>
<line x1="379.1" y1="98.8" x2="379.1" y2="23.8" stroke="#d2d2d2" stroke-width="0.9" stroke-opacity="0.6"/>
<line x1="338.7" y1="61.1" x2="423.7" y2="61.1" stroke="#d2d2d2" stroke-width="0.9" stroke-opacity="0.6"/>
<line x1="381.2" y1="98.6" x2="381.2" y2="23.5" stroke="#d2d2d2" stroke-width="0.9" stroke-opacity="0.6"/>
<line x1="357.7" y1="56.5" x2="410.4" y2="56.5" stroke="#d2d2d2" stroke-width="0.9" stroke-opacity="0.6"/>
<line x1="384.1" y1="88.5" x2="384.1" y2="24.5" stroke="#d2d2d2" stroke-width="0.9" stroke-opacity="0.6"/>
<line x1="357.4" y1="67.3" x2="404.2" y2="67.3" stroke="#d2d2d2" stroke-width="0.9" stroke-opacity="0.6"/>
<line x1="380.8" y1="106.4" x2="380.8" y2="28.3" stroke="#d2d2d2" stroke-width="0.9" stroke-opacity="0.6"/>
<line x1="341.1" y1="56.2" x2="427.5" y2="56.2" stroke="#d2d2d2" stroke-width="0.9" stroke-opacity="0.6"/>
<line x1="384.3" y1="73.1" x2="384.3" y2="39.2" stroke="#d2d2d2" stroke-width="0.9" stroke-opacity="0.6"/>
<line x1="339.0" y1="65.5" x2="426.4" y2="65.5" stroke="#d2d2d2" stroke-width="0.9" stroke-opacity="0.6"/>
<line x1="382.7" y1="79.1" x2="382.7" y2="51.9" stroke="#d2d2d2" stroke-width="0.9" stroke-opacity="0.6"/>
<line x1="375.6" y1="63.1" x2="398.5" y2="63.1" stroke="#d2d2d2" stroke-width="0.9" stroke-opacity="0.6"/>
<line x1="387.0" y1="93.5" x2="387.0" y2="32.6" stroke="#d2d2d2" stroke-width="0.9" stroke-opacity="0.6"/>
<line x1="366.7" y1="61.9" x2="404.8" y2="61.9" stroke="#d2d2d2" stroke-width="0.9" stroke-opacity="0.6"/>
<line x1="385.7" y1="85.9" x2="385.7" y2="37.8" stroke="#d2d2d2" stroke-width="0.9" stroke-opacity="0.6"/>
<line x1="355.5" y1="52.6" x2="420.2" y2="52.6" stroke="#d2d2d2" stroke-width="0.9" stroke-opacity="0.6"/>
<line x1="387.9" y1="61.7" x2="387.9" y2="43.5" stroke="#d2d2d2" stroke-width="0.9" stroke-opacity="0.6"/>
<line x1="349.9" y1="56.4" x2="422.8" y2="56.4" stroke="#d2d2d2" stroke-width="0.9" stroke-opacity="0.6"/>
<line x1="386.4" y1="72.9" x2="386.4" y2="40.0" stroke="#d2d2d2" stroke-width="0.9" stroke-opacity="0.6"/>
<line x1="365.4" y1="51.8" x2="414.1" y2="51.8" stroke="#d2d2d2" stroke-width="0.9" stroke-opacity="0.6"/>
<line x1="389.8" y1="70.4" x2="389.8" y2="33.2" stroke="#d2d2d2" stroke-width="0.9" stroke-opacity="0.6"/>
<line x1="353.4" y1="50.8" x2="426.0" y2="50.8" stroke="#d2d2d2" stroke-width="0.9" stroke-opacity="0.6"/>
<line x1="389.7" y1="82.0" x2="389.7" y2="19.6" stroke="#d2d2d2" stroke-width="0.9" stroke-opacity="0.6"/>
<line x1="370.9" y1="56.8" x2="408.4" y2="56.8" stroke="#d2d2d2" stroke-width="0.9" stroke-opacity="0.6"/>
<line x1="389.6" y1="67.9" x2="389.6" y2="45.8" stroke="#d2d2d2" stroke-width="0.9" stroke-opacity="0.6"/>
<line x1="370.6" y1="52.4" x2="409.1" y2="52.4" stroke="#d2d2d2" stroke-width="0.9" stroke-opacity="0.6"/>
<line x1="389.8" y1="73.0" x2="389.8" y2="31.7" stroke="#d2d2d2" stroke-width="0.9" stroke-opacity="0.6"/>
<line x1="381.1" y1="56.3" x2="402.5" y2="56.3" stroke="#d2d2d2" stroke-width="0.9" stroke-opacity="0.6"/>
<line x1="391.8" y1="68.9" x2="391.8" y2="43.7" stroke="#d2d2d2" stroke-width="0.9" stroke-opacity="0.6"/>
<line x1="354.0" y1="51.7" x2="428.2" y2="51.7" stroke="#d2d2d2" stroke-width="0.9" stroke-opacity="0.6"/>
<line x1="391.1" y1="81.4" x2="391.1" y2="21.9" stroke="#d2d2d2" stroke-width="0.9" stroke-opacity="0.6"/>
<line x1="348.6" y1="48.9" x2="439.3" y2="48.9" stroke="#d2d2d2" stroke-width="0.9" stroke-opacity="0.6"/>
<line x1="393.9" y1="87.3" x2="393.9" y2="10.4" stroke="#d2d2d2" stroke-width="0.9" stroke-opacity="0.6"/>
<line x1="352.3" y1="51.7" x2="435.2" y2="51.7" stroke="#d2d2d2" stroke-width="0.9" stroke-opacity="0.6"/>
<line x1="393.7" y1="71.2" x2="393.7" y2="32.2" stroke="#d2d2d2" stroke-width="0.9" stroke-opacity="0.6"/>
<line x1="379.5" y1="49.4" x2="407.4" y2="49.4" stroke="#d2d2d2" stroke-width="0.9" stroke-opacity="0.6"/>
<line x1="393.4" y1="67.0" x2="393.4" y2="31.8" stroke="#d2d2d2" stroke-width="0.9" stroke-opacity="0.6"/>
<line x1="368.1" y1="52.1" x2="419.2" y2="52.1" stroke="#d2d2d2" stroke-width="0.9" stroke-opacity="0.6"/>
<line x1="393.6" y1="76.3" x2="393.6" y2="27.8" stroke="#d2d2d2" stroke-width="0.9" stroke-opacity="0.6"/>
<line x1="369.2" y1="45.2" x2="426.4" y2="45.2" stroke="#d2d2d2" stroke-width="0.9" stroke-opacity="0.6"/>
<line x1="397.8" y1="64.3" x2="397.8" y2="26.1" stroke="#d2d2d2" stroke-width="0.9" stroke-opacity="0.6"/>
<line x1="355.0" y1="52.8" x2="436.1" y2="52.8" stroke="#d2d2d2" stroke-width="0.9" stroke-opacity="0.6"/>
<line x1="395.5" y1="69.5" x2="395.5" y2="36.0" stroke="#d2d2d2" stroke-width="0.9" stroke-opacity="0.6"/>
<line x1="374.2" y1="43.6" x2="425.3" y2="43.6" stroke="#d2d2d2" stroke-width="0.9" stroke-opacity="0.6"/>
<line x1="399.8" y1="79.2" x2="399.8" y2="8.0" stroke="#d2d2d2" stroke-width="0.9" stroke-opacity="0.6"/>
<line x1="352" y1="29.9" x2="352" y2="117.9" stroke="#dedede" stroke-width="0.8"/>
<line x1="313.4" y1="117.9" x2="400.1" y2="29.900000000000006" stroke="#111" stroke-width="1.05" stroke-dasharray="2.8 1.7"/>
<path d="M338.9 92.4 L341.2 96.3 L336.6 96.3 Z" fill="#999" fill-opacity="0.7"/>
<path d="M339.9 100.1 L342.2 104.0 L337.6 104.0 Z" fill="#999" fill-opacity="0.7"/>
<path d="M341.1 98.3 L343.4 102.2 L338.8 102.2 Z" fill="#999" fill-opacity="0.7"/>
<path d="M344.9 91.2 L347.2 95.1 L342.6 95.1 Z" fill="#999" fill-opacity="0.7"/>
<path d="M346.7 85.4 L349.0 89.3 L344.4 89.3 Z" fill="#999" fill-opacity="0.7"/>
<path d="M350.8 81.5 L353.1 85.4 L348.5 85.4 Z" fill="#999" fill-opacity="0.7"/>
<path d="M351.2 82.6 L353.5 86.5 L348.9 86.5 Z" fill="#999" fill-opacity="0.7"/>
<path d="M351.7 79.9 L354.0 83.8 L349.4 83.8 Z" fill="#999" fill-opacity="0.7"/>
<path d="M353.5 84.7 L355.8 88.6 L351.2 88.6 Z" fill="#999" fill-opacity="0.7"/>
<path d="M355.3 85.0 L357.6 88.9 L353.0 88.9 Z" fill="#999" fill-opacity="0.7"/>
<path d="M358.7 81.1 L361.0 85.0 L356.4 85.0 Z" fill="#999" fill-opacity="0.7"/>
<path d="M360.1 72.0 L362.4 75.9 L357.8 75.9 Z" fill="#999" fill-opacity="0.7"/>
<path d="M361.9 78.1 L364.2 82.0 L359.6 82.0 Z" fill="#999" fill-opacity="0.7"/>
<path d="M362.3 72.5 L364.6 76.4 L360.0 76.4 Z" fill="#999" fill-opacity="0.7"/>
<path d="M365.2 73.5 L367.5 77.4 L362.9 77.4 Z" fill="#999" fill-opacity="0.7"/>
<path d="M366.6 64.2 L368.9 68.1 L364.3 68.1 Z" fill="#999" fill-opacity="0.7"/>
<path d="M368.5 68.6 L370.8 72.5 L366.2 72.5 Z" fill="#999" fill-opacity="0.7"/>
<path d="M371.7 64.1 L374.0 68.0 L369.4 68.0 Z" fill="#999" fill-opacity="0.7"/>
<path d="M375.0 57.8 L377.3 61.7 L372.7 61.7 Z" fill="#999" fill-opacity="0.7"/>
<path d="M372.6 65.2 L374.9 69.1 L370.3 69.1 Z" fill="#999" fill-opacity="0.7"/>
<path d="M376.9 52.2 L379.2 56.1 L374.6 56.1 Z" fill="#999" fill-opacity="0.7"/>
<path d="M377.7 52.4 L380.0 56.3 L375.4 56.3 Z" fill="#999" fill-opacity="0.7"/>
<path d="M377.4 58.7 L379.7 62.6 L375.1 62.6 Z" fill="#999" fill-opacity="0.7"/>
<path d="M379.2 56.8 L381.5 60.7 L376.9 60.7 Z" fill="#999" fill-opacity="0.7"/>
<path d="M382.3 53.2 L384.6 57.1 L380.0 57.1 Z" fill="#999" fill-opacity="0.7"/>
<path d="M382.9 47.8 L385.2 51.7 L380.6 51.7 Z" fill="#999" fill-opacity="0.7"/>
<path d="M386.3 42.1 L388.6 46.0 L384.0 46.0 Z" fill="#999" fill-opacity="0.7"/>
<path d="M386.4 43.7 L388.7 47.6 L384.1 47.6 Z" fill="#999" fill-opacity="0.7"/>
<path d="M387.7 43.0 L390.0 46.9 L385.4 46.9 Z" fill="#999" fill-opacity="0.7"/>
<path d="M390.3 43.1 L392.6 47.0 L388.0 47.0 Z" fill="#999" fill-opacity="0.7"/>
<path d="M390.2 43.4 L392.5 47.3 L387.9 47.3 Z" fill="#999" fill-opacity="0.7"/>
<path d="M392.1 44.1 L394.4 48.0 L389.8 48.0 Z" fill="#999" fill-opacity="0.7"/>
<path d="M342.4 97.9 L345.5 101.0 L342.4 104.1 L339.3 101.0 Z" fill="#222" fill-opacity="0.85"/>
<path d="M341.8 99.7 L344.9 102.8 L341.8 105.9 L338.7 102.8 Z" fill="#222" fill-opacity="0.85"/>
<path d="M343.4 105.7 L346.5 108.8 L343.4 111.9 L340.3 108.8 Z" fill="#222" fill-opacity="0.85"/>
<path d="M342.6 106.9 L345.7 110.0 L342.6 113.1 L339.5 110.0 Z" fill="#222" fill-opacity="0.85"/>
<path d="M344.5 103.9 L347.6 107.0 L344.5 110.1 L341.4 107.0 Z" fill="#222" fill-opacity="0.85"/>
<path d="M347.1 94.9 L350.2 98.0 L347.1 101.1 L344.0 98.0 Z" fill="#222" fill-opacity="0.85"/>
<path d="M348.4 96.8 L351.5 99.9 L348.4 103.0 L345.3 99.9 Z" fill="#222" fill-opacity="0.85"/>
<path d="M350.0 96.5 L353.1 99.6 L350.0 102.7 L346.9 99.6 Z" fill="#222" fill-opacity="0.85"/>
<path d="M350.2 90.9 L353.3 94.0 L350.2 97.1 L347.1 94.0 Z" fill="#222" fill-opacity="0.85"/>
<path d="M351.0 96.9 L354.1 100.0 L351.0 103.1 L347.9 100.0 Z" fill="#222" fill-opacity="0.85"/>
<path d="M354.3 87.1 L357.4 90.2 L354.3 93.3 L351.2 90.2 Z" fill="#222" fill-opacity="0.85"/>
<path d="M352.9 92.7 L356.0 95.8 L352.9 98.9 L349.8 95.8 Z" fill="#222" fill-opacity="0.85"/>
<path d="M354.6 88.2 L357.7 91.3 L354.6 94.4 L351.5 91.3 Z" fill="#222" fill-opacity="0.85"/>
<path d="M354.2 95.6 L357.3 98.7 L354.2 101.8 L351.1 98.7 Z" fill="#222" fill-opacity="0.85"/>
<path d="M355.1 85.5 L358.2 88.6 L355.1 91.7 L352.0 88.6 Z" fill="#222" fill-opacity="0.85"/>
<path d="M355.8 88.6 L358.9 91.7 L355.8 94.8 L352.7 91.7 Z" fill="#222" fill-opacity="0.85"/>
<path d="M357.0 90.3 L360.1 93.4 L357.0 96.5 L353.9 93.4 Z" fill="#222" fill-opacity="0.85"/>
<path d="M357.8 87.1 L360.9 90.2 L357.8 93.3 L354.7 90.2 Z" fill="#222" fill-opacity="0.85"/>
<path d="M358.8 90.6 L361.9 93.7 L358.8 96.8 L355.7 93.7 Z" fill="#222" fill-opacity="0.85"/>
<path d="M359.4 88.2 L362.5 91.3 L359.4 94.4 L356.3 91.3 Z" fill="#222" fill-opacity="0.85"/>
<path d="M362.1 86.7 L365.2 89.8 L362.1 92.9 L359.0 89.8 Z" fill="#222" fill-opacity="0.85"/>
<path d="M360.9 83.4 L364.0 86.5 L360.9 89.6 L357.8 86.5 Z" fill="#222" fill-opacity="0.85"/>
<path d="M363.6 77.6 L366.7 80.7 L363.6 83.8 L360.5 80.7 Z" fill="#222" fill-opacity="0.85"/>
<path d="M362.8 81.9 L365.9 85.0 L362.8 88.1 L359.7 85.0 Z" fill="#222" fill-opacity="0.85"/>
<path d="M365.3 83.7 L368.4 86.8 L365.3 89.9 L362.2 86.8 Z" fill="#222" fill-opacity="0.85"/>
<path d="M368.9 77.7 L372.0 80.8 L368.9 83.9 L365.8 80.8 Z" fill="#222" fill-opacity="0.85"/>
<path d="M365.7 78.0 L368.8 81.1 L365.7 84.2 L362.6 81.1 Z" fill="#222" fill-opacity="0.85"/>
<path d="M367.0 75.0 L370.1 78.1 L367.0 81.2 L363.9 78.1 Z" fill="#222" fill-opacity="0.85"/>
<path d="M368.7 79.1 L371.8 82.2 L368.7 85.3 L365.6 82.2 Z" fill="#222" fill-opacity="0.85"/>
<path d="M368.2 72.5 L371.3 75.6 L368.2 78.7 L365.1 75.6 Z" fill="#222" fill-opacity="0.85"/>
<path d="M370.1 69.8 L373.2 72.9 L370.1 76.0 L367.0 72.9 Z" fill="#222" fill-opacity="0.85"/>
<path d="M371.8 66.3 L374.9 69.4 L371.8 72.5 L368.7 69.4 Z" fill="#222" fill-opacity="0.85"/>
<path d="M371.9 74.2 L375.0 77.3 L371.9 80.4 L368.8 77.3 Z" fill="#222" fill-opacity="0.85"/>
<path d="M372.7 66.8 L375.8 69.9 L372.7 73.0 L369.6 69.9 Z" fill="#222" fill-opacity="0.85"/>
<path d="M375.2 69.7 L378.3 72.8 L375.2 75.9 L372.1 72.8 Z" fill="#222" fill-opacity="0.85"/>
<path d="M373.6 67.4 L376.7 70.5 L373.6 73.6 L370.5 70.5 Z" fill="#222" fill-opacity="0.85"/>
<path d="M378.5 63.3 L381.6 66.4 L378.5 69.5 L375.4 66.4 Z" fill="#222" fill-opacity="0.85"/>
<path d="M374.8 73.7 L377.9 76.8 L374.8 79.9 L371.7 76.8 Z" fill="#222" fill-opacity="0.85"/>
<path d="M376.1 70.8 L379.2 73.9 L376.1 77.0 L373.0 73.9 Z" fill="#222" fill-opacity="0.85"/>
<path d="M376.7 71.5 L379.8 74.6 L376.7 77.7 L373.6 74.6 Z" fill="#222" fill-opacity="0.85"/>
<path d="M380.4 57.7 L383.5 60.8 L380.4 63.9 L377.3 60.8 Z" fill="#222" fill-opacity="0.85"/>
<path d="M379.1 58.2 L382.2 61.3 L379.1 64.4 L376.0 61.3 Z" fill="#222" fill-opacity="0.85"/>
<path d="M381.2 58.0 L384.3 61.1 L381.2 64.2 L378.1 61.1 Z" fill="#222" fill-opacity="0.85"/>
<path d="M384.1 53.4 L387.2 56.5 L384.1 59.6 L381.0 56.5 Z" fill="#222" fill-opacity="0.85"/>
<path d="M380.8 64.2 L383.9 67.3 L380.8 70.4 L377.7 67.3 Z" fill="#222" fill-opacity="0.85"/>
<path d="M384.3 53.1 L387.4 56.2 L384.3 59.3 L381.2 56.2 Z" fill="#222" fill-opacity="0.85"/>
<path d="M382.7 62.4 L385.8 65.5 L382.7 68.6 L379.6 65.5 Z" fill="#222" fill-opacity="0.85"/>
<path d="M387.0 60.0 L390.1 63.1 L387.0 66.2 L383.9 63.1 Z" fill="#222" fill-opacity="0.85"/>
<path d="M385.7 58.8 L388.8 61.9 L385.7 65.0 L382.6 61.9 Z" fill="#222" fill-opacity="0.85"/>
<path d="M387.9 49.5 L391.0 52.6 L387.9 55.7 L384.8 52.6 Z" fill="#222" fill-opacity="0.85"/>
<path d="M386.4 53.3 L389.5 56.4 L386.4 59.5 L383.3 56.4 Z" fill="#222" fill-opacity="0.85"/>
<path d="M389.8 48.7 L392.9 51.8 L389.8 54.9 L386.7 51.8 Z" fill="#222" fill-opacity="0.85"/>
<path d="M389.7 47.7 L392.8 50.8 L389.7 53.9 L386.6 50.8 Z" fill="#222" fill-opacity="0.85"/>
<path d="M389.6 53.7 L392.7 56.8 L389.6 59.9 L386.5 56.8 Z" fill="#222" fill-opacity="0.85"/>
<path d="M389.8 49.3 L392.9 52.4 L389.8 55.5 L386.7 52.4 Z" fill="#222" fill-opacity="0.85"/>
<path d="M391.8 53.2 L394.9 56.3 L391.8 59.4 L388.7 56.3 Z" fill="#222" fill-opacity="0.85"/>
<path d="M391.1 48.6 L394.2 51.7 L391.1 54.8 L388.0 51.7 Z" fill="#222" fill-opacity="0.85"/>
<path d="M393.9 45.8 L397.0 48.9 L393.9 52.0 L390.8 48.9 Z" fill="#222" fill-opacity="0.85"/>
<path d="M393.7 48.6 L396.8 51.7 L393.7 54.8 L390.6 51.7 Z" fill="#222" fill-opacity="0.85"/>
<path d="M393.4 46.3 L396.5 49.4 L393.4 52.5 L390.3 49.4 Z" fill="#222" fill-opacity="0.85"/>
<path d="M393.6 49.0 L396.7 52.1 L393.6 55.2 L390.5 52.1 Z" fill="#222" fill-opacity="0.85"/>
<path d="M397.8 42.1 L400.9 45.2 L397.8 48.3 L394.7 45.2 Z" fill="#222" fill-opacity="0.85"/>
<path d="M395.5 49.7 L398.6 52.8 L395.5 55.9 L392.4 52.8 Z" fill="#222" fill-opacity="0.85"/>
<path d="M399.8 40.5 L402.9 43.6 L399.8 46.7 L396.7 43.6 Z" fill="#222" fill-opacity="0.85"/>
<path d="M349 92.39999999999999 L351.9 95.3 L349 98.2 L346.1 95.3 Z" fill="#262626" fill-opacity="0.85"/>
<path d="M351.7 90.6 L354.59999999999997 93.5 L351.7 96.4 L348.8 93.5 Z" fill="#262626" fill-opacity="0.85"/>
<path d="M361.6 83.39999999999999 L364.5 86.3 L361.6 89.2 L358.70000000000005 86.3 Z" fill="#262626" fill-opacity="0.85"/>
<path d="M357 87.1 L359.9 90 L357 92.9 L354.1 90 Z" fill="#262626" fill-opacity="0.85"/>
<path d="M348 98.1 L350.9 101 L348 103.9 L345.1 101 Z" fill="#262626" fill-opacity="0.85"/>
<path d="M353 93.1 L355.9 96 L353 98.9 L350.1 96 Z" fill="#262626" fill-opacity="0.85"/>
<path d="M359 81.1 L361.9 84 L359 86.9 L356.1 84 Z" fill="#262626" fill-opacity="0.85"/>
<path d="M368 77.1 L370.9 80 L368 82.9 L365.1 80 Z" fill="#262626" fill-opacity="0.85"/>
<line x1="331" y1="104.8" x2="343.4" y2="104.8" stroke="#1f77b4" stroke-width="0.8"/>
<path d="M354.5 85.7 L357.3 88.5 L354.5 91.3 L351.7 88.5 Z" fill="#bcbd22"/>
<line x1="361" y1="83.6" x2="369" y2="83.6" stroke="#2ca02c" stroke-width="0.8" stroke-opacity="0.85"/>
<line x1="365.2" y1="78" x2="365.2" y2="92" stroke="#2ca02c" stroke-width="0.8" stroke-opacity="0.85"/>
<path d="M365.2 80.8 L368.0 83.6 L365.2 86.39999999999999 L362.4 83.6 Z" fill="#2ca02c"/>
<path d="M347.6 95.5 L350.40000000000003 98.3 L347.6 101.1 L344.8 98.3 Z" fill="#e377c2"/>
<path d="M345.8 99.7 L348.6 102.5 L345.8 105.3 L343.0 102.5 Z" fill="#9467bd"/>
<line x1="336" y1="104.2" x2="349" y2="104.2" stroke="#ff7f0e" stroke-width="0.8" stroke-opacity="0.85"/>
<line x1="342.8" y1="97" x2="342.8" y2="112.5" stroke="#ff7f0e" stroke-width="0.8" stroke-opacity="0.85"/>
<path d="M342.8 101.4 L345.6 104.2 L342.8 107.0 L340.0 104.2 Z" fill="#ff7f0e"/>
<line x1="331" y1="107.8" x2="343.4" y2="107.8" stroke="#1f77b4" stroke-width="0.8" stroke-opacity="0.85"/>
<line x1="339.9" y1="94.7" x2="339.9" y2="117.9" stroke="#1f77b4" stroke-width="0.8" stroke-opacity="0.85"/>
<path d="M339.9 105.0 L342.7 107.8 L339.9 110.6 L337.09999999999997 107.8 Z" fill="#1f77b4"/>
</g>
<text x="358.0" y="103.6" font-size="7.16" text-anchor="start" fill="#c04a4e" stroke="#c04a4e" stroke-width="0.18" textLength="40.84" lengthAdjust="spacingAndGlyphs">eruption age</text>
<rect x="313.4" y="29.9" width="86.70000000000005" height="88.0" fill="none" stroke="#4a4a4a" stroke-width="0.9"/>
<text x="315.8" y="37.4" font-size="7.16" text-anchor="start" fill="#262626" stroke="#262626" stroke-width="0.18" textLength="8.5" lengthAdjust="spacingAndGlyphs">(c)</text>
<line x1="323.0333333333333" y1="117.9" x2="323.0333333333333" y2="120.7" stroke="#4a4a4a" stroke-width="0.7"/>
<text x="323.0333333333333" y="127.6" font-size="6.36" text-anchor="middle" fill="#262626" stroke="#262626" stroke-width="0.18" textLength="7.23" lengthAdjust="spacingAndGlyphs">10</text>
<line x1="310.59999999999997" y1="108.12222222222223" x2="313.4" y2="108.12222222222223" stroke="#4a4a4a" stroke-width="0.7"/>
<text x="309.2" y="110.22222222222223" font-size="6.36" text-anchor="end" fill="#262626" stroke="#262626" stroke-width="0.18" textLength="7.23" lengthAdjust="spacingAndGlyphs">10</text>
<line x1="342.3" y1="117.9" x2="342.3" y2="120.7" stroke="#4a4a4a" stroke-width="0.7"/>
<text x="342.3" y="127.6" font-size="6.36" text-anchor="middle" fill="#262626" stroke="#262626" stroke-width="0.18" textLength="7.23" lengthAdjust="spacingAndGlyphs">20</text>
<line x1="310.59999999999997" y1="88.56666666666668" x2="313.4" y2="88.56666666666668" stroke="#4a4a4a" stroke-width="0.7"/>
<text x="309.2" y="90.66666666666667" font-size="6.36" text-anchor="end" fill="#262626" stroke="#262626" stroke-width="0.18" textLength="7.23" lengthAdjust="spacingAndGlyphs">20</text>
<line x1="361.56666666666666" y1="117.9" x2="361.56666666666666" y2="120.7" stroke="#4a4a4a" stroke-width="0.7"/>
<text x="361.56666666666666" y="127.6" font-size="6.36" text-anchor="middle" fill="#262626" stroke="#262626" stroke-width="0.18" textLength="7.23" lengthAdjust="spacingAndGlyphs">30</text>
<line x1="310.59999999999997" y1="69.01111111111112" x2="313.4" y2="69.01111111111112" stroke="#4a4a4a" stroke-width="0.7"/>
<text x="309.2" y="71.11111111111111" font-size="6.36" text-anchor="end" fill="#262626" stroke="#262626" stroke-width="0.18" textLength="7.23" lengthAdjust="spacingAndGlyphs">30</text>
<line x1="380.83333333333337" y1="117.9" x2="380.83333333333337" y2="120.7" stroke="#4a4a4a" stroke-width="0.7"/>
<text x="380.83333333333337" y="127.6" font-size="6.36" text-anchor="middle" fill="#262626" stroke="#262626" stroke-width="0.18" textLength="7.23" lengthAdjust="spacingAndGlyphs">40</text>
<line x1="310.59999999999997" y1="49.45555555555556" x2="313.4" y2="49.45555555555556" stroke="#4a4a4a" stroke-width="0.7"/>
<text x="309.2" y="51.555555555555564" font-size="6.36" text-anchor="end" fill="#262626" stroke="#262626" stroke-width="0.18" textLength="7.23" lengthAdjust="spacingAndGlyphs">40</text>
<line x1="400.1" y1="117.9" x2="400.1" y2="120.7" stroke="#4a4a4a" stroke-width="0.7"/>
<text x="400.1" y="127.6" font-size="6.36" text-anchor="middle" fill="#262626" stroke="#262626" stroke-width="0.18" textLength="7.23" lengthAdjust="spacingAndGlyphs">50</text>
<line x1="310.59999999999997" y1="29.900000000000006" x2="313.4" y2="29.900000000000006" stroke="#4a4a4a" stroke-width="0.7"/>
<text x="309.2" y="32.00000000000001" font-size="6.36" text-anchor="end" fill="#262626" stroke="#262626" stroke-width="0.18" textLength="7.23" lengthAdjust="spacingAndGlyphs">50</text>
<text x="357.0" y="136.0" font-size="6.36" text-anchor="middle" fill="#262626" stroke="#262626" stroke-width="0.18" textLength="67.01" lengthAdjust="spacingAndGlyphs">Original model age (ka)</text>
<text x="356.6" y="142.0" font-size="6.36" text-anchor="middle" fill="#262626" stroke="#262626" stroke-width="0.18" textLength="64.77" lengthAdjust="spacingAndGlyphs">Const. melt: measured</text>
<text x="0" y="0" font-size="6.36" text-anchor="middle" fill="#262626" stroke="#262626" stroke-width="0.18" textLength="57.18" lengthAdjust="spacingAndGlyphs" transform="translate(297.2 75.2) rotate(-90)">New model age (ka)</text>
</svg></body></html>
